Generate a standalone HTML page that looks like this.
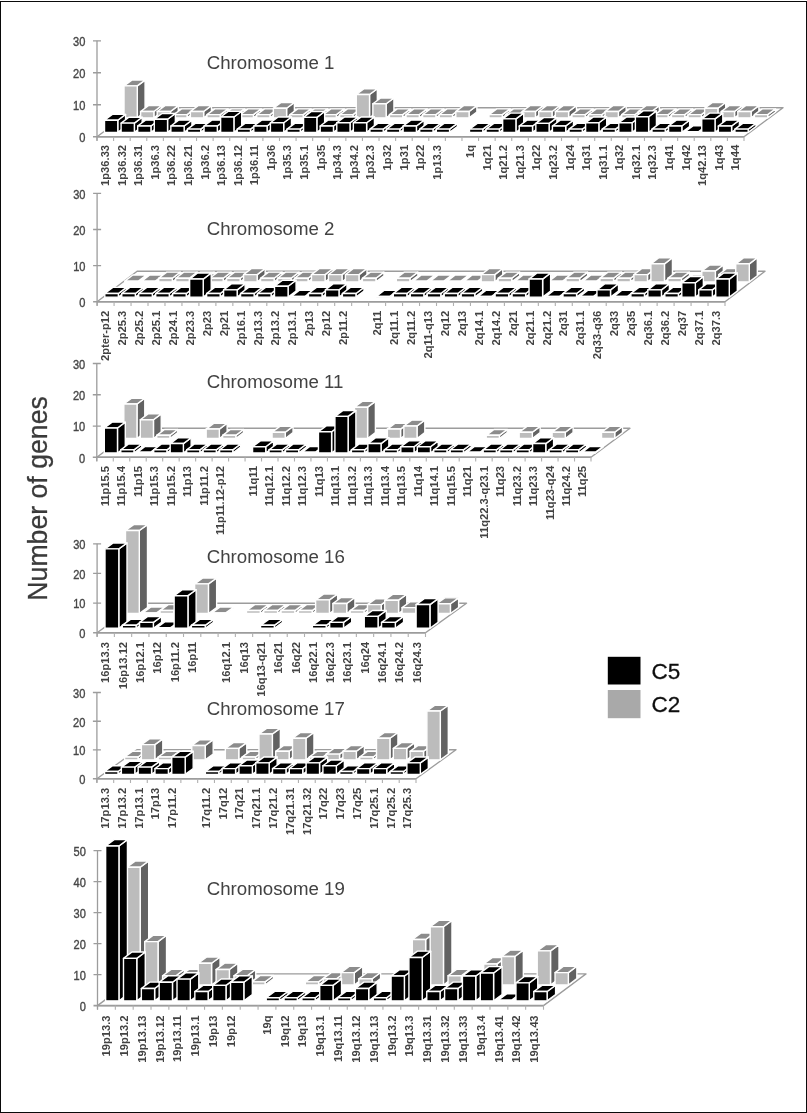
<!DOCTYPE html>
<html lang="en"><head><meta charset="utf-8"><title>Number of genes per chromosome band</title>
<style>
html,body{margin:0;padding:0;background:#fff;}
body{width:807px;height:1113px;overflow:hidden;position:relative;}
svg{position:absolute;left:0;top:0;display:block;font-family:"Liberation Sans", sans-serif;}
</style></head><body>
<svg width="807" height="1113" viewBox="0 0 807 1113">
<defs><filter id="soft" x="0" y="0" width="807" height="1113" filterUnits="userSpaceOnUse"><feGaussianBlur stdDeviation="0.4"/></filter></defs>
<rect x="0" y="0" width="807" height="1113" fill="#fff"/>
<g filter="url(#soft)">
<polygon points="97,136.7 744,136.7 783,107.7 136,107.7" fill="#fff" stroke="#9c9c9c" stroke-width="1.4" stroke-linejoin="round"/>
<line x1="93" y1="136.7" x2="744" y2="136.7" stroke="#9c9c9c" stroke-width="1.6"/>
<path d="M97 136.7V140.9M113.59 136.7V140.9M130.18 136.7V140.9M146.77 136.7V140.9M163.36 136.7V140.9M179.95 136.7V140.9M196.54 136.7V140.9M213.13 136.7V140.9M229.72 136.7V140.9M246.31 136.7V140.9M262.9 136.7V140.9M279.49 136.7V140.9M296.08 136.7V140.9M312.67 136.7V140.9M329.26 136.7V140.9M345.85 136.7V140.9M362.44 136.7V140.9M379.03 136.7V140.9M395.62 136.7V140.9M412.21 136.7V140.9M428.79 136.7V140.9M445.38 136.7V140.9M461.97 136.7V140.9M478.56 136.7V140.9M495.15 136.7V140.9M511.74 136.7V140.9M528.33 136.7V140.9M544.92 136.7V140.9M561.51 136.7V140.9M578.1 136.7V140.9M594.69 136.7V140.9M611.28 136.7V140.9M627.87 136.7V140.9M644.46 136.7V140.9M661.05 136.7V140.9M677.64 136.7V140.9M694.23 136.7V140.9M710.82 136.7V140.9M727.41 136.7V140.9M744 136.7V140.9" stroke="#b0b0b0" stroke-width="1.1" fill="none"/>
<line x1="97" y1="40.8" x2="97" y2="140.7" stroke="#9c9c9c" stroke-width="1.3"/>
<text x="85.4" y="142" text-anchor="end" font-size="11.9" fill="#464646" stroke="#464646" stroke-width="0.35" textLength="6.15" lengthAdjust="spacingAndGlyphs">0</text>
<text x="85.4" y="110.03" text-anchor="end" font-size="11.9" fill="#464646" stroke="#464646" stroke-width="0.35" textLength="12.3" lengthAdjust="spacingAndGlyphs">10</text>
<text x="85.4" y="78.07" text-anchor="end" font-size="11.9" fill="#464646" stroke="#464646" stroke-width="0.35" textLength="12.3" lengthAdjust="spacingAndGlyphs">20</text>
<text x="85.4" y="46.1" text-anchor="end" font-size="11.9" fill="#464646" stroke="#464646" stroke-width="0.35" textLength="12.3" lengthAdjust="spacingAndGlyphs">30</text>
<path d="M93 104.73H101M93 72.77H101M93 40.8H101" stroke="#9c9c9c" stroke-width="1.3" fill="none"/>
<g stroke="#ffffff" stroke-width="1.4" stroke-linejoin="round"><polygon points="137.28,117.85 145.08,112.05 145.08,80.08 137.28,85.88" fill="#626262"/><polygon points="124.01,85.88 137.28,85.88 145.08,80.08 131.81,80.08" fill="#8c8c8c"/><polygon points="124.01,117.85 137.28,117.85 137.28,85.88 124.01,85.88" fill="#bcbcbc"/><polygon points="153.87,117.85 161.67,112.05 161.67,105.66 153.87,111.46" fill="#626262"/><polygon points="140.6,111.46 153.87,111.46 161.67,105.66 148.4,105.66" fill="#8c8c8c"/><polygon points="140.6,117.85 153.87,117.85 153.87,111.46 140.6,111.46" fill="#bcbcbc"/><polygon points="170.46,117.85 178.26,112.05 178.26,105.66 170.46,111.46" fill="#626262"/><polygon points="157.19,111.46 170.46,111.46 178.26,105.66 164.99,105.66" fill="#8c8c8c"/><polygon points="157.19,117.85 170.46,117.85 170.46,111.46 157.19,111.46" fill="#bcbcbc"/><polygon points="187.05,117.85 194.85,112.05 194.85,108.85 187.05,114.65" fill="#626262"/><polygon points="173.78,114.65 187.05,114.65 194.85,108.85 181.58,108.85" fill="#8c8c8c"/><polygon points="173.78,117.85 187.05,117.85 187.05,114.65 173.78,114.65" fill="#bcbcbc"/><polygon points="203.64,117.85 211.44,112.05 211.44,105.66 203.64,111.46" fill="#626262"/><polygon points="190.37,111.46 203.64,111.46 211.44,105.66 198.17,105.66" fill="#8c8c8c"/><polygon points="190.37,117.85 203.64,117.85 203.64,111.46 190.37,111.46" fill="#bcbcbc"/><polygon points="220.23,117.85 228.03,112.05 228.03,108.85 220.23,114.65" fill="#626262"/><polygon points="206.96,114.65 220.23,114.65 228.03,108.85 214.76,108.85" fill="#8c8c8c"/><polygon points="206.96,117.85 220.23,117.85 220.23,114.65 206.96,114.65" fill="#bcbcbc"/><polygon points="236.82,117.85 244.62,112.05 244.62,108.85 236.82,114.65" fill="#626262"/><polygon points="223.55,114.65 236.82,114.65 244.62,108.85 231.35,108.85" fill="#8c8c8c"/><polygon points="223.55,117.85 236.82,117.85 236.82,114.65 223.55,114.65" fill="#bcbcbc"/><polygon points="253.41,117.85 261.21,112.05 261.21,108.85 253.41,114.65" fill="#626262"/><polygon points="240.14,114.65 253.41,114.65 261.21,108.85 247.94,108.85" fill="#8c8c8c"/><polygon points="240.14,117.85 253.41,117.85 253.41,114.65 240.14,114.65" fill="#bcbcbc"/><polygon points="270,117.85 277.8,112.05 277.8,108.85 270,114.65" fill="#626262"/><polygon points="256.73,114.65 270,114.65 277.8,108.85 264.53,108.85" fill="#8c8c8c"/><polygon points="256.73,117.85 270,117.85 270,114.65 256.73,114.65" fill="#bcbcbc"/><polygon points="286.59,117.85 294.39,112.05 294.39,102.46 286.59,108.26" fill="#626262"/><polygon points="273.32,108.26 286.59,108.26 294.39,102.46 281.12,102.46" fill="#8c8c8c"/><polygon points="273.32,117.85 286.59,117.85 286.59,108.26 273.32,108.26" fill="#bcbcbc"/><polygon points="303.18,117.85 310.98,112.05 310.98,108.85 303.18,114.65" fill="#626262"/><polygon points="289.91,114.65 303.18,114.65 310.98,108.85 297.71,108.85" fill="#8c8c8c"/><polygon points="289.91,117.85 303.18,117.85 303.18,114.65 289.91,114.65" fill="#bcbcbc"/><polygon points="319.77,117.85 327.57,112.05 327.57,108.85 319.77,114.65" fill="#626262"/><polygon points="306.5,114.65 319.77,114.65 327.57,108.85 314.3,108.85" fill="#8c8c8c"/><polygon points="306.5,117.85 319.77,117.85 319.77,114.65 306.5,114.65" fill="#bcbcbc"/><polygon points="336.36,117.85 344.16,112.05 344.16,108.85 336.36,114.65" fill="#626262"/><polygon points="323.09,114.65 336.36,114.65 344.16,108.85 330.89,108.85" fill="#8c8c8c"/><polygon points="323.09,117.85 336.36,117.85 336.36,114.65 323.09,114.65" fill="#bcbcbc"/><polygon points="352.95,117.85 360.75,112.05 360.75,108.85 352.95,114.65" fill="#626262"/><polygon points="339.68,114.65 352.95,114.65 360.75,108.85 347.48,108.85" fill="#8c8c8c"/><polygon points="339.68,117.85 352.95,117.85 352.95,114.65 339.68,114.65" fill="#bcbcbc"/><polygon points="369.54,117.85 377.34,112.05 377.34,88.71 369.54,94.51" fill="#626262"/><polygon points="356.27,94.51 369.54,94.51 377.34,88.71 364.07,88.71" fill="#8c8c8c"/><polygon points="356.27,117.85 369.54,117.85 369.54,94.51 356.27,94.51" fill="#bcbcbc"/><polygon points="386.13,117.85 393.93,112.05 393.93,97.98 386.13,103.78" fill="#626262"/><polygon points="372.86,103.78 386.13,103.78 393.93,97.98 380.66,97.98" fill="#8c8c8c"/><polygon points="372.86,117.85 386.13,117.85 386.13,103.78 372.86,103.78" fill="#bcbcbc"/><polygon points="402.72,117.85 410.52,112.05 410.52,108.85 402.72,114.65" fill="#626262"/><polygon points="389.44,114.65 402.72,114.65 410.52,108.85 397.24,108.85" fill="#8c8c8c"/><polygon points="389.44,117.85 402.72,117.85 402.72,114.65 389.44,114.65" fill="#bcbcbc"/><polygon points="419.31,117.85 427.11,112.05 427.11,108.85 419.31,114.65" fill="#626262"/><polygon points="406.03,114.65 419.31,114.65 427.11,108.85 413.83,108.85" fill="#8c8c8c"/><polygon points="406.03,117.85 419.31,117.85 419.31,114.65 406.03,114.65" fill="#bcbcbc"/><polygon points="435.9,117.85 443.7,112.05 443.7,108.85 435.9,114.65" fill="#626262"/><polygon points="422.62,114.65 435.9,114.65 443.7,108.85 430.42,108.85" fill="#8c8c8c"/><polygon points="422.62,117.85 435.9,117.85 435.9,114.65 422.62,114.65" fill="#bcbcbc"/><polygon points="452.49,117.85 460.29,112.05 460.29,108.85 452.49,114.65" fill="#626262"/><polygon points="439.21,114.65 452.49,114.65 460.29,108.85 447.01,108.85" fill="#8c8c8c"/><polygon points="439.21,117.85 452.49,117.85 452.49,114.65 439.21,114.65" fill="#bcbcbc"/><polygon points="469.08,117.85 476.88,112.05 476.88,105.66 469.08,111.46" fill="#626262"/><polygon points="455.8,111.46 469.08,111.46 476.88,105.66 463.6,105.66" fill="#8c8c8c"/><polygon points="455.8,117.85 469.08,117.85 469.08,111.46 455.8,111.46" fill="#bcbcbc"/><polygon points="502.26,117.85 510.06,112.05 510.06,108.85 502.26,114.65" fill="#626262"/><polygon points="488.98,114.65 502.26,114.65 510.06,108.85 496.78,108.85" fill="#8c8c8c"/><polygon points="488.98,117.85 502.26,117.85 502.26,114.65 488.98,114.65" fill="#bcbcbc"/><polygon points="518.84,117.85 526.64,112.05 526.64,108.85 518.84,114.65" fill="#626262"/><polygon points="505.57,114.65 518.84,114.65 526.64,108.85 513.37,108.85" fill="#8c8c8c"/><polygon points="505.57,117.85 518.84,117.85 518.84,114.65 505.57,114.65" fill="#bcbcbc"/><polygon points="535.43,117.85 543.23,112.05 543.23,105.66 535.43,111.46" fill="#626262"/><polygon points="522.16,111.46 535.43,111.46 543.23,105.66 529.96,105.66" fill="#8c8c8c"/><polygon points="522.16,117.85 535.43,117.85 535.43,111.46 522.16,111.46" fill="#bcbcbc"/><polygon points="552.02,117.85 559.82,112.05 559.82,105.66 552.02,111.46" fill="#626262"/><polygon points="538.75,111.46 552.02,111.46 559.82,105.66 546.55,105.66" fill="#8c8c8c"/><polygon points="538.75,117.85 552.02,117.85 552.02,111.46 538.75,111.46" fill="#bcbcbc"/><polygon points="568.61,117.85 576.41,112.05 576.41,105.66 568.61,111.46" fill="#626262"/><polygon points="555.34,111.46 568.61,111.46 576.41,105.66 563.14,105.66" fill="#8c8c8c"/><polygon points="555.34,117.85 568.61,117.85 568.61,111.46 555.34,111.46" fill="#bcbcbc"/><polygon points="585.2,117.85 593,112.05 593,108.85 585.2,114.65" fill="#626262"/><polygon points="571.93,114.65 585.2,114.65 593,108.85 579.73,108.85" fill="#8c8c8c"/><polygon points="571.93,117.85 585.2,117.85 585.2,114.65 571.93,114.65" fill="#bcbcbc"/><polygon points="601.79,117.85 609.59,112.05 609.59,108.85 601.79,114.65" fill="#626262"/><polygon points="588.52,114.65 601.79,114.65 609.59,108.85 596.32,108.85" fill="#8c8c8c"/><polygon points="588.52,117.85 601.79,117.85 601.79,114.65 588.52,114.65" fill="#bcbcbc"/><polygon points="618.38,117.85 626.18,112.05 626.18,105.66 618.38,111.46" fill="#626262"/><polygon points="605.11,111.46 618.38,111.46 626.18,105.66 612.91,105.66" fill="#8c8c8c"/><polygon points="605.11,117.85 618.38,117.85 618.38,111.46 605.11,111.46" fill="#bcbcbc"/><polygon points="634.97,117.85 642.77,112.05 642.77,108.85 634.97,114.65" fill="#626262"/><polygon points="621.7,114.65 634.97,114.65 642.77,108.85 629.5,108.85" fill="#8c8c8c"/><polygon points="621.7,117.85 634.97,117.85 634.97,114.65 621.7,114.65" fill="#bcbcbc"/><polygon points="651.56,117.85 659.36,112.05 659.36,105.66 651.56,111.46" fill="#626262"/><polygon points="638.29,111.46 651.56,111.46 659.36,105.66 646.09,105.66" fill="#8c8c8c"/><polygon points="638.29,117.85 651.56,117.85 651.56,111.46 638.29,111.46" fill="#bcbcbc"/><polygon points="668.15,117.85 675.95,112.05 675.95,108.85 668.15,114.65" fill="#626262"/><polygon points="654.88,114.65 668.15,114.65 675.95,108.85 662.68,108.85" fill="#8c8c8c"/><polygon points="654.88,117.85 668.15,117.85 668.15,114.65 654.88,114.65" fill="#bcbcbc"/><polygon points="684.74,117.85 692.54,112.05 692.54,108.85 684.74,114.65" fill="#626262"/><polygon points="671.47,114.65 684.74,114.65 692.54,108.85 679.27,108.85" fill="#8c8c8c"/><polygon points="671.47,117.85 684.74,117.85 684.74,114.65 671.47,114.65" fill="#bcbcbc"/><polygon points="701.33,117.85 709.13,112.05 709.13,108.85 701.33,114.65" fill="#626262"/><polygon points="688.06,114.65 701.33,114.65 709.13,108.85 695.86,108.85" fill="#8c8c8c"/><polygon points="688.06,117.85 701.33,117.85 701.33,114.65 688.06,114.65" fill="#bcbcbc"/><polygon points="717.92,117.85 725.72,112.05 725.72,102.46 717.92,108.26" fill="#626262"/><polygon points="704.65,108.26 717.92,108.26 725.72,102.46 712.45,102.46" fill="#8c8c8c"/><polygon points="704.65,117.85 717.92,117.85 717.92,108.26 704.65,108.26" fill="#bcbcbc"/><polygon points="734.51,117.85 742.31,112.05 742.31,105.66 734.51,111.46" fill="#626262"/><polygon points="721.24,111.46 734.51,111.46 742.31,105.66 729.04,105.66" fill="#8c8c8c"/><polygon points="721.24,117.85 734.51,117.85 734.51,111.46 721.24,111.46" fill="#bcbcbc"/><polygon points="751.1,117.85 758.9,112.05 758.9,105.66 751.1,111.46" fill="#626262"/><polygon points="737.83,111.46 751.1,111.46 758.9,105.66 745.63,105.66" fill="#8c8c8c"/><polygon points="737.83,117.85 751.1,117.85 751.1,111.46 737.83,111.46" fill="#bcbcbc"/><polygon points="767.69,117.85 775.49,112.05 775.49,108.85 767.69,114.65" fill="#626262"/><polygon points="754.42,114.65 767.69,114.65 775.49,108.85 762.22,108.85" fill="#8c8c8c"/><polygon points="754.42,117.85 767.69,117.85 767.69,114.65 754.42,114.65" fill="#bcbcbc"/></g>
<g stroke="#ffffff" stroke-width="1.4" stroke-linejoin="round"><polygon points="117.78,132.35 125.58,126.55 125.58,114.4 117.78,120.2" fill="#000000"/><polygon points="104.51,120.2 117.78,120.2 125.58,114.4 112.31,114.4" fill="#000000"/><polygon points="104.51,132.35 117.78,132.35 117.78,120.2 104.51,120.2" fill="#000000"/><polygon points="134.37,132.35 142.17,126.55 142.17,117.28 134.37,123.08" fill="#000000"/><polygon points="121.1,123.08 134.37,123.08 142.17,117.28 128.9,117.28" fill="#000000"/><polygon points="121.1,132.35 134.37,132.35 134.37,123.08 121.1,123.08" fill="#000000"/><polygon points="150.96,132.35 158.76,126.55 158.76,120.16 150.96,125.96" fill="#000000"/><polygon points="137.69,125.96 150.96,125.96 158.76,120.16 145.49,120.16" fill="#000000"/><polygon points="137.69,132.35 150.96,132.35 150.96,125.96 137.69,125.96" fill="#000000"/><polygon points="167.55,132.35 175.35,126.55 175.35,113.44 167.55,119.24" fill="#000000"/><polygon points="154.28,119.24 167.55,119.24 175.35,113.44 162.08,113.44" fill="#000000"/><polygon points="154.28,132.35 167.55,132.35 167.55,119.24 154.28,119.24" fill="#000000"/><polygon points="184.14,132.35 191.94,126.55 191.94,120.16 184.14,125.96" fill="#000000"/><polygon points="170.87,125.96 184.14,125.96 191.94,120.16 178.67,120.16" fill="#000000"/><polygon points="170.87,132.35 184.14,132.35 184.14,125.96 170.87,125.96" fill="#000000"/><polygon points="200.73,132.35 208.53,126.55 208.53,123.35 200.73,129.15" fill="#000000"/><polygon points="187.46,129.15 200.73,129.15 208.53,123.35 195.26,123.35" fill="#000000"/><polygon points="187.46,132.35 200.73,132.35 200.73,129.15 187.46,129.15" fill="#000000"/><polygon points="217.32,132.35 225.12,126.55 225.12,120.16 217.32,125.96" fill="#000000"/><polygon points="204.05,125.96 217.32,125.96 225.12,120.16 211.85,120.16" fill="#000000"/><polygon points="204.05,132.35 217.32,132.35 217.32,125.96 204.05,125.96" fill="#000000"/><polygon points="233.91,132.35 241.71,126.55 241.71,111.21 233.91,117.01" fill="#000000"/><polygon points="220.64,117.01 233.91,117.01 241.71,111.21 228.44,111.21" fill="#000000"/><polygon points="220.64,132.35 233.91,132.35 233.91,117.01 220.64,117.01" fill="#000000"/><polygon points="250.5,132.35 258.3,126.55 258.3,123.35 250.5,129.15" fill="#000000"/><polygon points="237.23,129.15 250.5,129.15 258.3,123.35 245.03,123.35" fill="#000000"/><polygon points="237.23,132.35 250.5,132.35 250.5,129.15 237.23,129.15" fill="#000000"/><polygon points="267.09,132.35 274.89,126.55 274.89,120.16 267.09,125.96" fill="#000000"/><polygon points="253.82,125.96 267.09,125.96 274.89,120.16 261.62,120.16" fill="#000000"/><polygon points="253.82,132.35 267.09,132.35 267.09,125.96 253.82,125.96" fill="#000000"/><polygon points="283.68,132.35 291.48,126.55 291.48,116.96 283.68,122.76" fill="#000000"/><polygon points="270.41,122.76 283.68,122.76 291.48,116.96 278.21,116.96" fill="#000000"/><polygon points="270.41,132.35 283.68,132.35 283.68,122.76 270.41,122.76" fill="#000000"/><polygon points="300.27,132.35 308.07,126.55 308.07,123.35 300.27,129.15" fill="#000000"/><polygon points="287,129.15 300.27,129.15 308.07,123.35 294.8,123.35" fill="#000000"/><polygon points="287,132.35 300.27,132.35 300.27,129.15 287,129.15" fill="#000000"/><polygon points="316.86,132.35 324.66,126.55 324.66,111.53 316.86,117.33" fill="#000000"/><polygon points="303.59,117.33 316.86,117.33 324.66,111.53 311.39,111.53" fill="#000000"/><polygon points="303.59,132.35 316.86,132.35 316.86,117.33 303.59,117.33" fill="#000000"/><polygon points="333.45,132.35 341.25,126.55 341.25,120.16 333.45,125.96" fill="#000000"/><polygon points="320.18,125.96 333.45,125.96 341.25,120.16 327.98,120.16" fill="#000000"/><polygon points="320.18,132.35 333.45,132.35 333.45,125.96 320.18,125.96" fill="#000000"/><polygon points="350.04,132.35 357.84,126.55 357.84,116.96 350.04,122.76" fill="#000000"/><polygon points="336.77,122.76 350.04,122.76 357.84,116.96 344.57,116.96" fill="#000000"/><polygon points="336.77,132.35 350.04,132.35 350.04,122.76 336.77,122.76" fill="#000000"/><polygon points="366.63,132.35 374.43,126.55 374.43,116.96 366.63,122.76" fill="#000000"/><polygon points="353.36,122.76 366.63,122.76 374.43,116.96 361.16,116.96" fill="#000000"/><polygon points="353.36,132.35 366.63,132.35 366.63,122.76 353.36,122.76" fill="#000000"/><polygon points="383.22,132.35 391.02,126.55 391.02,123.35 383.22,129.15" fill="#000000"/><polygon points="369.94,129.15 383.22,129.15 391.02,123.35 377.74,123.35" fill="#000000"/><polygon points="369.94,132.35 383.22,132.35 383.22,129.15 369.94,129.15" fill="#000000"/><polygon points="399.81,132.35 407.61,126.55 407.61,123.35 399.81,129.15" fill="#000000"/><polygon points="386.53,129.15 399.81,129.15 407.61,123.35 394.33,123.35" fill="#000000"/><polygon points="386.53,132.35 399.81,132.35 399.81,129.15 386.53,129.15" fill="#000000"/><polygon points="416.4,132.35 424.2,126.55 424.2,120.16 416.4,125.96" fill="#000000"/><polygon points="403.12,125.96 416.4,125.96 424.2,120.16 410.92,120.16" fill="#000000"/><polygon points="403.12,132.35 416.4,132.35 416.4,125.96 403.12,125.96" fill="#000000"/><polygon points="432.99,132.35 440.79,126.55 440.79,123.35 432.99,129.15" fill="#000000"/><polygon points="419.71,129.15 432.99,129.15 440.79,123.35 427.51,123.35" fill="#000000"/><polygon points="419.71,132.35 432.99,132.35 432.99,129.15 419.71,129.15" fill="#000000"/><polygon points="449.58,132.35 457.38,126.55 457.38,123.35 449.58,129.15" fill="#000000"/><polygon points="436.3,129.15 449.58,129.15 457.38,123.35 444.1,123.35" fill="#000000"/><polygon points="436.3,132.35 449.58,132.35 449.58,129.15 436.3,129.15" fill="#000000"/><polygon points="482.76,132.35 490.56,126.55 490.56,123.35 482.76,129.15" fill="#000000"/><polygon points="469.48,129.15 482.76,129.15 490.56,123.35 477.28,123.35" fill="#000000"/><polygon points="469.48,132.35 482.76,132.35 482.76,129.15 469.48,129.15" fill="#000000"/><polygon points="499.34,132.35 507.14,126.55 507.14,123.35 499.34,129.15" fill="#000000"/><polygon points="486.07,129.15 499.34,129.15 507.14,123.35 493.87,123.35" fill="#000000"/><polygon points="486.07,132.35 499.34,132.35 499.34,129.15 486.07,129.15" fill="#000000"/><polygon points="515.93,132.35 523.73,126.55 523.73,113.12 515.93,118.92" fill="#000000"/><polygon points="502.66,118.92 515.93,118.92 523.73,113.12 510.46,113.12" fill="#000000"/><polygon points="502.66,132.35 515.93,132.35 515.93,118.92 502.66,118.92" fill="#000000"/><polygon points="532.52,132.35 540.32,126.55 540.32,120.16 532.52,125.96" fill="#000000"/><polygon points="519.25,125.96 532.52,125.96 540.32,120.16 527.05,120.16" fill="#000000"/><polygon points="519.25,132.35 532.52,132.35 532.52,125.96 519.25,125.96" fill="#000000"/><polygon points="549.11,132.35 556.91,126.55 556.91,117.6 549.11,123.4" fill="#000000"/><polygon points="535.84,123.4 549.11,123.4 556.91,117.6 543.64,117.6" fill="#000000"/><polygon points="535.84,132.35 549.11,132.35 549.11,123.4 535.84,123.4" fill="#000000"/><polygon points="565.7,132.35 573.5,126.55 573.5,120.16 565.7,125.96" fill="#000000"/><polygon points="552.43,125.96 565.7,125.96 573.5,120.16 560.23,120.16" fill="#000000"/><polygon points="552.43,132.35 565.7,132.35 565.7,125.96 552.43,125.96" fill="#000000"/><polygon points="582.29,132.35 590.09,126.55 590.09,123.35 582.29,129.15" fill="#000000"/><polygon points="569.02,129.15 582.29,129.15 590.09,123.35 576.82,123.35" fill="#000000"/><polygon points="569.02,132.35 582.29,132.35 582.29,129.15 569.02,129.15" fill="#000000"/><polygon points="598.88,132.35 606.68,126.55 606.68,116.96 598.88,122.76" fill="#000000"/><polygon points="585.61,122.76 598.88,122.76 606.68,116.96 593.41,116.96" fill="#000000"/><polygon points="585.61,132.35 598.88,132.35 598.88,122.76 585.61,122.76" fill="#000000"/><polygon points="615.47,132.35 623.27,126.55 623.27,123.35 615.47,129.15" fill="#000000"/><polygon points="602.2,129.15 615.47,129.15 623.27,123.35 610,123.35" fill="#000000"/><polygon points="602.2,132.35 615.47,132.35 615.47,129.15 602.2,129.15" fill="#000000"/><polygon points="632.06,132.35 639.86,126.55 639.86,116.96 632.06,122.76" fill="#000000"/><polygon points="618.79,122.76 632.06,122.76 639.86,116.96 626.59,116.96" fill="#000000"/><polygon points="618.79,132.35 632.06,132.35 632.06,122.76 618.79,122.76" fill="#000000"/><polygon points="648.65,132.35 656.45,126.55 656.45,110.89 648.65,116.69" fill="#000000"/><polygon points="635.38,116.69 648.65,116.69 656.45,110.89 643.18,110.89" fill="#000000"/><polygon points="635.38,132.35 648.65,132.35 648.65,116.69 635.38,116.69" fill="#000000"/><polygon points="665.24,132.35 673.04,126.55 673.04,123.35 665.24,129.15" fill="#000000"/><polygon points="651.97,129.15 665.24,129.15 673.04,123.35 659.77,123.35" fill="#000000"/><polygon points="651.97,132.35 665.24,132.35 665.24,129.15 651.97,129.15" fill="#000000"/><polygon points="681.83,132.35 689.63,126.55 689.63,120.16 681.83,125.96" fill="#000000"/><polygon points="668.56,125.96 681.83,125.96 689.63,120.16 676.36,120.16" fill="#000000"/><polygon points="668.56,132.35 681.83,132.35 681.83,125.96 668.56,125.96" fill="#000000"/><polygon points="698.42,132.35 706.22,126.55 706.22,125.91 698.42,131.71" fill="#000000"/><polygon points="685.15,131.71 698.42,131.71 706.22,125.91 692.95,125.91" fill="#000000"/><polygon points="685.15,132.35 698.42,132.35 698.42,131.71 685.15,131.71" fill="#000000"/><polygon points="715.01,132.35 722.81,126.55 722.81,113.12 715.01,118.92" fill="#000000"/><polygon points="701.74,118.92 715.01,118.92 722.81,113.12 709.54,113.12" fill="#000000"/><polygon points="701.74,132.35 715.01,132.35 715.01,118.92 701.74,118.92" fill="#000000"/><polygon points="731.6,132.35 739.4,126.55 739.4,120.16 731.6,125.96" fill="#000000"/><polygon points="718.33,125.96 731.6,125.96 739.4,120.16 726.13,120.16" fill="#000000"/><polygon points="718.33,132.35 731.6,132.35 731.6,125.96 718.33,125.96" fill="#000000"/><polygon points="748.19,132.35 755.99,126.55 755.99,123.35 748.19,129.15" fill="#000000"/><polygon points="734.92,129.15 748.19,129.15 755.99,123.35 742.72,123.35" fill="#000000"/><polygon points="734.92,132.35 748.19,132.35 748.19,129.15 734.92,129.15" fill="#000000"/></g>
<g font-size="11.2" font-weight="bold" fill="#424242" text-anchor="end"><text transform="translate(108.99 144.9) rotate(-90)">1p36.33</text><text transform="translate(125.58 144.9) rotate(-90)">1p36.32</text><text transform="translate(142.17 144.9) rotate(-90)">1p36.31</text><text transform="translate(158.76 144.9) rotate(-90)">1p36.3</text><text transform="translate(175.35 144.9) rotate(-90)">1p36.22</text><text transform="translate(191.94 144.9) rotate(-90)">1p36.21</text><text transform="translate(208.53 144.9) rotate(-90)">1p36.2</text><text transform="translate(225.12 144.9) rotate(-90)">1p36.13</text><text transform="translate(241.71 144.9) rotate(-90)">1p36.12</text><text transform="translate(258.3 144.9) rotate(-90)">1p36.11</text><text transform="translate(274.89 144.9) rotate(-90)">1p36</text><text transform="translate(291.48 144.9) rotate(-90)">1p35.3</text><text transform="translate(308.07 144.9) rotate(-90)">1p35.1</text><text transform="translate(324.66 144.9) rotate(-90)">1p35</text><text transform="translate(341.25 144.9) rotate(-90)">1p34.3</text><text transform="translate(357.84 144.9) rotate(-90)">1p34.2</text><text transform="translate(374.43 144.9) rotate(-90)">1p32.3</text><text transform="translate(391.02 144.9) rotate(-90)">1p32</text><text transform="translate(407.61 144.9) rotate(-90)">1p31</text><text transform="translate(424.2 144.9) rotate(-90)">1p22</text><text transform="translate(440.79 144.9) rotate(-90)">1p13.3</text><text transform="translate(473.97 144.9) rotate(-90)">1q</text><text transform="translate(490.56 144.9) rotate(-90)">1q21</text><text transform="translate(507.15 144.9) rotate(-90)">1q21.2</text><text transform="translate(523.74 144.9) rotate(-90)">1q21.3</text><text transform="translate(540.33 144.9) rotate(-90)">1q22</text><text transform="translate(556.92 144.9) rotate(-90)">1q23.2</text><text transform="translate(573.51 144.9) rotate(-90)">1q24</text><text transform="translate(590.1 144.9) rotate(-90)">1q31</text><text transform="translate(606.69 144.9) rotate(-90)">1q31.1</text><text transform="translate(623.28 144.9) rotate(-90)">1q32</text><text transform="translate(639.87 144.9) rotate(-90)">1q32.1</text><text transform="translate(656.46 144.9) rotate(-90)">1q32.3</text><text transform="translate(673.05 144.9) rotate(-90)">1q41</text><text transform="translate(689.64 144.9) rotate(-90)">1q42</text><text transform="translate(706.23 144.9) rotate(-90)">1q42.13</text><text transform="translate(722.82 144.9) rotate(-90)">1q43</text><text transform="translate(739.41 144.9) rotate(-90)">1q44</text></g>
<text x="206.7" y="68.7" font-size="18.7" fill="#424242">Chromosome 1</text>
<polygon points="97.1,301.7 725,301.7 765,271.2 137.1,271.2" fill="#fff" stroke="#9c9c9c" stroke-width="1.4" stroke-linejoin="round"/>
<line x1="93.1" y1="301.7" x2="725" y2="301.7" stroke="#9c9c9c" stroke-width="1.6"/>
<path d="M97.1 301.7V305.9M114.07 301.7V305.9M131.04 301.7V305.9M148.01 301.7V305.9M164.98 301.7V305.9M181.95 301.7V305.9M198.92 301.7V305.9M215.89 301.7V305.9M232.86 301.7V305.9M249.83 301.7V305.9M266.8 301.7V305.9M283.77 301.7V305.9M300.74 301.7V305.9M317.71 301.7V305.9M334.68 301.7V305.9M351.65 301.7V305.9M368.62 301.7V305.9M385.59 301.7V305.9M402.56 301.7V305.9M419.54 301.7V305.9M436.51 301.7V305.9M453.48 301.7V305.9M470.45 301.7V305.9M487.42 301.7V305.9M504.39 301.7V305.9M521.36 301.7V305.9M538.33 301.7V305.9M555.3 301.7V305.9M572.27 301.7V305.9M589.24 301.7V305.9M606.21 301.7V305.9M623.18 301.7V305.9M640.15 301.7V305.9M657.12 301.7V305.9M674.09 301.7V305.9M691.06 301.7V305.9M708.03 301.7V305.9M725 301.7V305.9" stroke="#b0b0b0" stroke-width="1.1" fill="none"/>
<line x1="97.1" y1="193.4" x2="97.1" y2="305.7" stroke="#9c9c9c" stroke-width="1.3"/>
<text x="85.5" y="307" text-anchor="end" font-size="11.9" fill="#464646" stroke="#464646" stroke-width="0.35" textLength="6.15" lengthAdjust="spacingAndGlyphs">0</text>
<text x="85.5" y="270.9" text-anchor="end" font-size="11.9" fill="#464646" stroke="#464646" stroke-width="0.35" textLength="12.3" lengthAdjust="spacingAndGlyphs">10</text>
<text x="85.5" y="234.8" text-anchor="end" font-size="11.9" fill="#464646" stroke="#464646" stroke-width="0.35" textLength="12.3" lengthAdjust="spacingAndGlyphs">20</text>
<text x="85.5" y="198.7" text-anchor="end" font-size="11.9" fill="#464646" stroke="#464646" stroke-width="0.35" textLength="12.3" lengthAdjust="spacingAndGlyphs">30</text>
<path d="M93.1 265.6H101.1M93.1 229.5H101.1M93.1 193.4H101.1" stroke="#9c9c9c" stroke-width="1.3" fill="none"/>
<g stroke="#ffffff" stroke-width="1.4" stroke-linejoin="round"><polygon points="138.37,281.88 146.37,275.77 146.37,275.05 138.37,281.15" fill="#626262"/><polygon points="124.8,281.15 138.37,281.15 146.37,275.05 132.8,275.05" fill="#8c8c8c"/><polygon points="124.8,281.88 138.37,281.88 138.37,281.15 124.8,281.15" fill="#bcbcbc"/><polygon points="155.34,281.88 163.34,275.77 163.34,275.05 155.34,281.15" fill="#626262"/><polygon points="141.77,281.15 155.34,281.15 163.34,275.05 149.77,275.05" fill="#8c8c8c"/><polygon points="141.77,281.88 155.34,281.88 155.34,281.15 141.77,281.15" fill="#bcbcbc"/><polygon points="172.31,281.88 180.31,275.77 180.31,272.16 172.31,278.26" fill="#626262"/><polygon points="158.74,278.26 172.31,278.26 180.31,272.16 166.74,272.16" fill="#8c8c8c"/><polygon points="158.74,281.88 172.31,281.88 172.31,278.26 158.74,278.26" fill="#bcbcbc"/><polygon points="189.28,281.88 197.28,275.77 197.28,272.16 189.28,278.26" fill="#626262"/><polygon points="175.71,278.26 189.28,278.26 197.28,272.16 183.71,272.16" fill="#8c8c8c"/><polygon points="175.71,281.88 189.28,281.88 189.28,278.26 175.71,278.26" fill="#bcbcbc"/><polygon points="206.25,281.88 214.25,275.77 214.25,272.16 206.25,278.26" fill="#626262"/><polygon points="192.68,278.26 206.25,278.26 214.25,272.16 200.68,272.16" fill="#8c8c8c"/><polygon points="192.68,281.88 206.25,281.88 206.25,278.26 192.68,278.26" fill="#bcbcbc"/><polygon points="223.22,281.88 231.22,275.77 231.22,272.16 223.22,278.26" fill="#626262"/><polygon points="209.65,278.26 223.22,278.26 231.22,272.16 217.65,272.16" fill="#8c8c8c"/><polygon points="209.65,281.88 223.22,281.88 223.22,278.26 209.65,278.26" fill="#bcbcbc"/><polygon points="240.19,281.88 248.19,275.77 248.19,272.16 240.19,278.26" fill="#626262"/><polygon points="226.62,278.26 240.19,278.26 248.19,272.16 234.62,272.16" fill="#8c8c8c"/><polygon points="226.62,281.88 240.19,281.88 240.19,278.26 226.62,278.26" fill="#bcbcbc"/><polygon points="257.17,281.88 265.17,275.77 265.17,268.55 257.17,274.65" fill="#626262"/><polygon points="243.59,274.65 257.17,274.65 265.17,268.55 251.59,268.55" fill="#8c8c8c"/><polygon points="243.59,281.88 257.17,281.88 257.17,274.65 243.59,274.65" fill="#bcbcbc"/><polygon points="274.14,281.88 282.14,275.77 282.14,272.16 274.14,278.26" fill="#626262"/><polygon points="260.56,278.26 274.14,278.26 282.14,272.16 268.56,272.16" fill="#8c8c8c"/><polygon points="260.56,281.88 274.14,281.88 274.14,278.26 260.56,278.26" fill="#bcbcbc"/><polygon points="291.11,281.88 299.11,275.77 299.11,272.16 291.11,278.26" fill="#626262"/><polygon points="277.53,278.26 291.11,278.26 299.11,272.16 285.53,272.16" fill="#8c8c8c"/><polygon points="277.53,281.88 291.11,281.88 291.11,278.26 277.53,278.26" fill="#bcbcbc"/><polygon points="308.08,281.88 316.08,275.77 316.08,272.16 308.08,278.26" fill="#626262"/><polygon points="294.5,278.26 308.08,278.26 316.08,272.16 302.5,272.16" fill="#8c8c8c"/><polygon points="294.5,281.88 308.08,281.88 308.08,278.26 294.5,278.26" fill="#bcbcbc"/><polygon points="325.05,281.88 333.05,275.77 333.05,268.55 325.05,274.65" fill="#626262"/><polygon points="311.47,274.65 325.05,274.65 333.05,268.55 319.47,268.55" fill="#8c8c8c"/><polygon points="311.47,281.88 325.05,281.88 325.05,274.65 311.47,274.65" fill="#bcbcbc"/><polygon points="342.02,281.88 350.02,275.77 350.02,268.55 342.02,274.65" fill="#626262"/><polygon points="328.44,274.65 342.02,274.65 350.02,268.55 336.44,268.55" fill="#8c8c8c"/><polygon points="328.44,281.88 342.02,281.88 342.02,274.65 328.44,274.65" fill="#bcbcbc"/><polygon points="358.99,281.88 366.99,275.77 366.99,268.55 358.99,274.65" fill="#626262"/><polygon points="345.41,274.65 358.99,274.65 366.99,268.55 353.41,268.55" fill="#8c8c8c"/><polygon points="345.41,281.88 358.99,281.88 358.99,274.65 345.41,274.65" fill="#bcbcbc"/><polygon points="375.96,281.88 383.96,275.77 383.96,272.16 375.96,278.26" fill="#626262"/><polygon points="362.38,278.26 375.96,278.26 383.96,272.16 370.38,272.16" fill="#8c8c8c"/><polygon points="362.38,281.88 375.96,281.88 375.96,278.26 362.38,278.26" fill="#bcbcbc"/><polygon points="409.9,281.88 417.9,275.77 417.9,272.16 409.9,278.26" fill="#626262"/><polygon points="396.32,278.26 409.9,278.26 417.9,272.16 404.32,272.16" fill="#8c8c8c"/><polygon points="396.32,281.88 409.9,281.88 409.9,278.26 396.32,278.26" fill="#bcbcbc"/><polygon points="426.87,281.88 434.87,275.77 434.87,275.05 426.87,281.15" fill="#626262"/><polygon points="413.29,281.15 426.87,281.15 434.87,275.05 421.29,275.05" fill="#8c8c8c"/><polygon points="413.29,281.88 426.87,281.88 426.87,281.15 413.29,281.15" fill="#bcbcbc"/><polygon points="443.84,281.88 451.84,275.77 451.84,275.05 443.84,281.15" fill="#626262"/><polygon points="430.26,281.15 443.84,281.15 451.84,275.05 438.26,275.05" fill="#8c8c8c"/><polygon points="430.26,281.88 443.84,281.88 443.84,281.15 430.26,281.15" fill="#bcbcbc"/><polygon points="460.81,281.88 468.81,275.77 468.81,275.05 460.81,281.15" fill="#626262"/><polygon points="447.23,281.15 460.81,281.15 468.81,275.05 455.23,275.05" fill="#8c8c8c"/><polygon points="447.23,281.88 460.81,281.88 460.81,281.15 447.23,281.15" fill="#bcbcbc"/><polygon points="477.78,281.88 485.78,275.77 485.78,275.05 477.78,281.15" fill="#626262"/><polygon points="464.2,281.15 477.78,281.15 485.78,275.05 472.2,275.05" fill="#8c8c8c"/><polygon points="464.2,281.88 477.78,281.88 477.78,281.15 464.2,281.15" fill="#bcbcbc"/><polygon points="494.75,281.88 502.75,275.77 502.75,268.55 494.75,274.65" fill="#626262"/><polygon points="481.17,274.65 494.75,274.65 502.75,268.55 489.17,268.55" fill="#8c8c8c"/><polygon points="481.17,281.88 494.75,281.88 494.75,274.65 481.17,274.65" fill="#bcbcbc"/><polygon points="511.72,281.88 519.72,275.77 519.72,272.16 511.72,278.26" fill="#626262"/><polygon points="498.14,278.26 511.72,278.26 519.72,272.16 506.14,272.16" fill="#8c8c8c"/><polygon points="498.14,281.88 511.72,281.88 511.72,278.26 498.14,278.26" fill="#bcbcbc"/><polygon points="528.69,281.88 536.69,275.77 536.69,275.05 528.69,281.15" fill="#626262"/><polygon points="515.11,281.15 528.69,281.15 536.69,275.05 523.11,275.05" fill="#8c8c8c"/><polygon points="515.11,281.88 528.69,281.88 528.69,281.15 515.11,281.15" fill="#bcbcbc"/><polygon points="545.66,281.88 553.66,275.77 553.66,275.05 545.66,281.15" fill="#626262"/><polygon points="532.08,281.15 545.66,281.15 553.66,275.05 540.08,275.05" fill="#8c8c8c"/><polygon points="532.08,281.88 545.66,281.88 545.66,281.15 532.08,281.15" fill="#bcbcbc"/><polygon points="562.63,281.88 570.63,275.77 570.63,275.05 562.63,281.15" fill="#626262"/><polygon points="549.05,281.15 562.63,281.15 570.63,275.05 557.05,275.05" fill="#8c8c8c"/><polygon points="549.05,281.88 562.63,281.88 562.63,281.15 549.05,281.15" fill="#bcbcbc"/><polygon points="579.6,281.88 587.6,275.77 587.6,272.16 579.6,278.26" fill="#626262"/><polygon points="566.02,278.26 579.6,278.26 587.6,272.16 574.02,272.16" fill="#8c8c8c"/><polygon points="566.02,281.88 579.6,281.88 579.6,278.26 566.02,278.26" fill="#bcbcbc"/><polygon points="596.57,281.88 604.57,275.77 604.57,275.05 596.57,281.15" fill="#626262"/><polygon points="582.99,281.15 596.57,281.15 604.57,275.05 590.99,275.05" fill="#8c8c8c"/><polygon points="582.99,281.88 596.57,281.88 596.57,281.15 582.99,281.15" fill="#bcbcbc"/><polygon points="613.54,281.88 621.54,275.77 621.54,272.16 613.54,278.26" fill="#626262"/><polygon points="599.96,278.26 613.54,278.26 621.54,272.16 607.96,272.16" fill="#8c8c8c"/><polygon points="599.96,281.88 613.54,281.88 613.54,278.26 599.96,278.26" fill="#bcbcbc"/><polygon points="630.51,281.88 638.51,275.77 638.51,272.16 630.51,278.26" fill="#626262"/><polygon points="616.93,278.26 630.51,278.26 638.51,272.16 624.93,272.16" fill="#8c8c8c"/><polygon points="616.93,281.88 630.51,281.88 630.51,278.26 616.93,278.26" fill="#bcbcbc"/><polygon points="647.48,281.88 655.48,275.77 655.48,268.55 647.48,274.65" fill="#626262"/><polygon points="633.91,274.65 647.48,274.65 655.48,268.55 641.91,268.55" fill="#8c8c8c"/><polygon points="633.91,281.88 647.48,281.88 647.48,274.65 633.91,274.65" fill="#bcbcbc"/><polygon points="664.45,281.88 672.45,275.77 672.45,257.72 664.45,263.82" fill="#626262"/><polygon points="650.88,263.82 664.45,263.82 672.45,257.72 658.88,257.72" fill="#8c8c8c"/><polygon points="650.88,281.88 664.45,281.88 664.45,263.82 650.88,263.82" fill="#bcbcbc"/><polygon points="681.42,281.88 689.42,275.77 689.42,272.16 681.42,278.26" fill="#626262"/><polygon points="667.85,278.26 681.42,278.26 689.42,272.16 675.85,272.16" fill="#8c8c8c"/><polygon points="667.85,281.88 681.42,281.88 681.42,278.26 667.85,278.26" fill="#bcbcbc"/><polygon points="698.39,281.88 706.39,275.77 706.39,275.05 698.39,281.15" fill="#626262"/><polygon points="684.82,281.15 698.39,281.15 706.39,275.05 692.82,275.05" fill="#8c8c8c"/><polygon points="684.82,281.88 698.39,281.88 698.39,281.15 684.82,281.15" fill="#bcbcbc"/><polygon points="715.36,281.88 723.36,275.77 723.36,264.94 715.36,271.05" fill="#626262"/><polygon points="701.79,271.05 715.36,271.05 723.36,264.94 709.79,264.94" fill="#8c8c8c"/><polygon points="701.79,281.88 715.36,281.88 715.36,271.05 701.79,271.05" fill="#bcbcbc"/><polygon points="732.33,281.88 740.33,275.77 740.33,268.55 732.33,274.65" fill="#626262"/><polygon points="718.76,274.65 732.33,274.65 740.33,268.55 726.76,268.55" fill="#8c8c8c"/><polygon points="718.76,281.88 732.33,281.88 732.33,274.65 718.76,274.65" fill="#bcbcbc"/><polygon points="749.3,281.88 757.3,275.77 757.3,257.72 749.3,263.82" fill="#626262"/><polygon points="735.73,263.82 749.3,263.82 757.3,257.72 743.73,257.72" fill="#8c8c8c"/><polygon points="735.73,281.88 749.3,281.88 749.3,263.82 735.73,263.82" fill="#bcbcbc"/></g>
<g stroke="#ffffff" stroke-width="1.4" stroke-linejoin="round"><polygon points="118.37,297.12 126.37,291.02 126.37,287.41 118.37,293.51" fill="#000000"/><polygon points="104.8,293.51 118.37,293.51 126.37,287.41 112.8,287.41" fill="#000000"/><polygon points="104.8,297.12 118.37,297.12 118.37,293.51 104.8,293.51" fill="#000000"/><polygon points="135.34,297.12 143.34,291.02 143.34,287.41 135.34,293.51" fill="#000000"/><polygon points="121.77,293.51 135.34,293.51 143.34,287.41 129.77,287.41" fill="#000000"/><polygon points="121.77,297.12 135.34,297.12 135.34,293.51 121.77,293.51" fill="#000000"/><polygon points="152.31,297.12 160.31,291.02 160.31,287.41 152.31,293.51" fill="#000000"/><polygon points="138.74,293.51 152.31,293.51 160.31,287.41 146.74,287.41" fill="#000000"/><polygon points="138.74,297.12 152.31,297.12 152.31,293.51 138.74,293.51" fill="#000000"/><polygon points="169.28,297.12 177.28,291.02 177.28,287.41 169.28,293.51" fill="#000000"/><polygon points="155.71,293.51 169.28,293.51 177.28,287.41 163.71,287.41" fill="#000000"/><polygon points="155.71,297.12 169.28,297.12 169.28,293.51 155.71,293.51" fill="#000000"/><polygon points="186.25,297.12 194.25,291.02 194.25,287.41 186.25,293.51" fill="#000000"/><polygon points="172.68,293.51 186.25,293.51 194.25,287.41 180.68,287.41" fill="#000000"/><polygon points="172.68,297.12 186.25,297.12 186.25,293.51 172.68,293.51" fill="#000000"/><polygon points="203.22,297.12 211.22,291.02 211.22,272.97 203.22,279.07" fill="#000000"/><polygon points="189.65,279.07 203.22,279.07 211.22,272.97 197.65,272.97" fill="#000000"/><polygon points="189.65,297.12 203.22,297.12 203.22,279.07 189.65,279.07" fill="#000000"/><polygon points="220.19,297.12 228.19,291.02 228.19,287.41 220.19,293.51" fill="#000000"/><polygon points="206.62,293.51 220.19,293.51 228.19,287.41 214.62,287.41" fill="#000000"/><polygon points="206.62,297.12 220.19,297.12 220.19,293.51 206.62,293.51" fill="#000000"/><polygon points="237.17,297.12 245.17,291.02 245.17,283.8 237.17,289.9" fill="#000000"/><polygon points="223.59,289.9 237.17,289.9 245.17,283.8 231.59,283.8" fill="#000000"/><polygon points="223.59,297.12 237.17,297.12 237.17,289.9 223.59,289.9" fill="#000000"/><polygon points="254.14,297.12 262.14,291.02 262.14,287.41 254.14,293.51" fill="#000000"/><polygon points="240.56,293.51 254.14,293.51 262.14,287.41 248.56,287.41" fill="#000000"/><polygon points="240.56,297.12 254.14,297.12 254.14,293.51 240.56,293.51" fill="#000000"/><polygon points="271.11,297.12 279.11,291.02 279.11,287.41 271.11,293.51" fill="#000000"/><polygon points="257.53,293.51 271.11,293.51 279.11,287.41 265.53,287.41" fill="#000000"/><polygon points="257.53,297.12 271.11,297.12 271.11,293.51 257.53,293.51" fill="#000000"/><polygon points="288.08,297.12 296.08,291.02 296.08,280.19 288.08,286.3" fill="#000000"/><polygon points="274.5,286.3 288.08,286.3 296.08,280.19 282.5,280.19" fill="#000000"/><polygon points="274.5,297.12 288.08,297.12 288.08,286.3 274.5,286.3" fill="#000000"/><polygon points="305.05,297.12 313.05,291.02 313.05,290.3 305.05,296.4" fill="#000000"/><polygon points="291.47,296.4 305.05,296.4 313.05,290.3 299.47,290.3" fill="#000000"/><polygon points="291.47,297.12 305.05,297.12 305.05,296.4 291.47,296.4" fill="#000000"/><polygon points="322.02,297.12 330.02,291.02 330.02,287.41 322.02,293.51" fill="#000000"/><polygon points="308.44,293.51 322.02,293.51 330.02,287.41 316.44,287.41" fill="#000000"/><polygon points="308.44,297.12 322.02,297.12 322.02,293.51 308.44,293.51" fill="#000000"/><polygon points="338.99,297.12 346.99,291.02 346.99,283.8 338.99,289.9" fill="#000000"/><polygon points="325.41,289.9 338.99,289.9 346.99,283.8 333.41,283.8" fill="#000000"/><polygon points="325.41,297.12 338.99,297.12 338.99,289.9 325.41,289.9" fill="#000000"/><polygon points="355.96,297.12 363.96,291.02 363.96,287.41 355.96,293.51" fill="#000000"/><polygon points="342.38,293.51 355.96,293.51 363.96,287.41 350.38,287.41" fill="#000000"/><polygon points="342.38,297.12 355.96,297.12 355.96,293.51 342.38,293.51" fill="#000000"/><polygon points="389.9,297.12 397.9,291.02 397.9,290.3 389.9,296.4" fill="#000000"/><polygon points="376.32,296.4 389.9,296.4 397.9,290.3 384.32,290.3" fill="#000000"/><polygon points="376.32,297.12 389.9,297.12 389.9,296.4 376.32,296.4" fill="#000000"/><polygon points="406.87,297.12 414.87,291.02 414.87,287.41 406.87,293.51" fill="#000000"/><polygon points="393.29,293.51 406.87,293.51 414.87,287.41 401.29,287.41" fill="#000000"/><polygon points="393.29,297.12 406.87,297.12 406.87,293.51 393.29,293.51" fill="#000000"/><polygon points="423.84,297.12 431.84,291.02 431.84,287.41 423.84,293.51" fill="#000000"/><polygon points="410.26,293.51 423.84,293.51 431.84,287.41 418.26,287.41" fill="#000000"/><polygon points="410.26,297.12 423.84,297.12 423.84,293.51 410.26,293.51" fill="#000000"/><polygon points="440.81,297.12 448.81,291.02 448.81,287.41 440.81,293.51" fill="#000000"/><polygon points="427.23,293.51 440.81,293.51 448.81,287.41 435.23,287.41" fill="#000000"/><polygon points="427.23,297.12 440.81,297.12 440.81,293.51 427.23,293.51" fill="#000000"/><polygon points="457.78,297.12 465.78,291.02 465.78,287.41 457.78,293.51" fill="#000000"/><polygon points="444.2,293.51 457.78,293.51 465.78,287.41 452.2,287.41" fill="#000000"/><polygon points="444.2,297.12 457.78,297.12 457.78,293.51 444.2,293.51" fill="#000000"/><polygon points="474.75,297.12 482.75,291.02 482.75,287.41 474.75,293.51" fill="#000000"/><polygon points="461.17,293.51 474.75,293.51 482.75,287.41 469.17,287.41" fill="#000000"/><polygon points="461.17,297.12 474.75,297.12 474.75,293.51 461.17,293.51" fill="#000000"/><polygon points="491.72,297.12 499.72,291.02 499.72,290.3 491.72,296.4" fill="#000000"/><polygon points="478.14,296.4 491.72,296.4 499.72,290.3 486.14,290.3" fill="#000000"/><polygon points="478.14,297.12 491.72,297.12 491.72,296.4 478.14,296.4" fill="#000000"/><polygon points="508.69,297.12 516.69,291.02 516.69,287.41 508.69,293.51" fill="#000000"/><polygon points="495.11,293.51 508.69,293.51 516.69,287.41 503.11,287.41" fill="#000000"/><polygon points="495.11,297.12 508.69,297.12 508.69,293.51 495.11,293.51" fill="#000000"/><polygon points="525.66,297.12 533.66,291.02 533.66,287.41 525.66,293.51" fill="#000000"/><polygon points="512.08,293.51 525.66,293.51 533.66,287.41 520.08,287.41" fill="#000000"/><polygon points="512.08,297.12 525.66,297.12 525.66,293.51 512.08,293.51" fill="#000000"/><polygon points="542.63,297.12 550.63,291.02 550.63,272.97 542.63,279.07" fill="#000000"/><polygon points="529.05,279.07 542.63,279.07 550.63,272.97 537.05,272.97" fill="#000000"/><polygon points="529.05,297.12 542.63,297.12 542.63,279.07 529.05,279.07" fill="#000000"/><polygon points="559.6,297.12 567.6,291.02 567.6,290.3 559.6,296.4" fill="#000000"/><polygon points="546.02,296.4 559.6,296.4 567.6,290.3 554.02,290.3" fill="#000000"/><polygon points="546.02,297.12 559.6,297.12 559.6,296.4 546.02,296.4" fill="#000000"/><polygon points="576.57,297.12 584.57,291.02 584.57,287.41 576.57,293.51" fill="#000000"/><polygon points="562.99,293.51 576.57,293.51 584.57,287.41 570.99,287.41" fill="#000000"/><polygon points="562.99,297.12 576.57,297.12 576.57,293.51 562.99,293.51" fill="#000000"/><polygon points="593.54,297.12 601.54,291.02 601.54,290.3 593.54,296.4" fill="#000000"/><polygon points="579.96,296.4 593.54,296.4 601.54,290.3 587.96,290.3" fill="#000000"/><polygon points="579.96,297.12 593.54,297.12 593.54,296.4 579.96,296.4" fill="#000000"/><polygon points="610.51,297.12 618.51,291.02 618.51,283.8 610.51,289.9" fill="#000000"/><polygon points="596.93,289.9 610.51,289.9 618.51,283.8 604.93,283.8" fill="#000000"/><polygon points="596.93,297.12 610.51,297.12 610.51,289.9 596.93,289.9" fill="#000000"/><polygon points="627.48,297.12 635.48,291.02 635.48,290.3 627.48,296.4" fill="#000000"/><polygon points="613.91,296.4 627.48,296.4 635.48,290.3 621.91,290.3" fill="#000000"/><polygon points="613.91,297.12 627.48,297.12 627.48,296.4 613.91,296.4" fill="#000000"/><polygon points="644.45,297.12 652.45,291.02 652.45,287.41 644.45,293.51" fill="#000000"/><polygon points="630.88,293.51 644.45,293.51 652.45,287.41 638.88,287.41" fill="#000000"/><polygon points="630.88,297.12 644.45,297.12 644.45,293.51 630.88,293.51" fill="#000000"/><polygon points="661.42,297.12 669.42,291.02 669.42,283.8 661.42,289.9" fill="#000000"/><polygon points="647.85,289.9 661.42,289.9 669.42,283.8 655.85,283.8" fill="#000000"/><polygon points="647.85,297.12 661.42,297.12 661.42,289.9 647.85,289.9" fill="#000000"/><polygon points="678.39,297.12 686.39,291.02 686.39,287.41 678.39,293.51" fill="#000000"/><polygon points="664.82,293.51 678.39,293.51 686.39,287.41 672.82,287.41" fill="#000000"/><polygon points="664.82,297.12 678.39,297.12 678.39,293.51 664.82,293.51" fill="#000000"/><polygon points="695.36,297.12 703.36,291.02 703.36,276.58 695.36,282.69" fill="#000000"/><polygon points="681.79,282.69 695.36,282.69 703.36,276.58 689.79,276.58" fill="#000000"/><polygon points="681.79,297.12 695.36,297.12 695.36,282.69 681.79,282.69" fill="#000000"/><polygon points="712.33,297.12 720.33,291.02 720.33,283.8 712.33,289.9" fill="#000000"/><polygon points="698.76,289.9 712.33,289.9 720.33,283.8 706.76,283.8" fill="#000000"/><polygon points="698.76,297.12 712.33,297.12 712.33,289.9 698.76,289.9" fill="#000000"/><polygon points="729.3,297.12 737.3,291.02 737.3,272.97 729.3,279.07" fill="#000000"/><polygon points="715.73,279.07 729.3,279.07 737.3,272.97 723.73,272.97" fill="#000000"/><polygon points="715.73,297.12 729.3,297.12 729.3,279.07 715.73,279.07" fill="#000000"/></g>
<g font-size="11.2" font-weight="bold" fill="#424242" text-anchor="end"><text transform="translate(109.29 310.7) rotate(-90)">2pter-p12</text><text transform="translate(126.26 310.7) rotate(-90)">2p25.3</text><text transform="translate(143.23 310.7) rotate(-90)">2p25.2</text><text transform="translate(160.2 310.7) rotate(-90)">2p25.1</text><text transform="translate(177.17 310.7) rotate(-90)">2p24.1</text><text transform="translate(194.14 310.7) rotate(-90)">2p23.3</text><text transform="translate(211.11 310.7) rotate(-90)">2p23</text><text transform="translate(228.08 310.7) rotate(-90)">2p21</text><text transform="translate(245.05 310.7) rotate(-90)">2p16.1</text><text transform="translate(262.02 310.7) rotate(-90)">2p13.3</text><text transform="translate(278.99 310.7) rotate(-90)">2p13.2</text><text transform="translate(295.96 310.7) rotate(-90)">2p13.1</text><text transform="translate(312.93 310.7) rotate(-90)">2p13</text><text transform="translate(329.9 310.7) rotate(-90)">2p12</text><text transform="translate(346.87 310.7) rotate(-90)">2p11.2</text><text transform="translate(380.81 310.7) rotate(-90)">2q11</text><text transform="translate(397.78 310.7) rotate(-90)">2q11.1</text><text transform="translate(414.75 310.7) rotate(-90)">2q11.2</text><text transform="translate(431.72 310.7) rotate(-90)">2q11-q13</text><text transform="translate(448.69 310.7) rotate(-90)">2q12</text><text transform="translate(465.66 310.7) rotate(-90)">2q13</text><text transform="translate(482.63 310.7) rotate(-90)">2q14.1</text><text transform="translate(499.6 310.7) rotate(-90)">2q14.2</text><text transform="translate(516.57 310.7) rotate(-90)">2q21</text><text transform="translate(533.54 310.7) rotate(-90)">2q21.1</text><text transform="translate(550.51 310.7) rotate(-90)">2q21.2</text><text transform="translate(567.48 310.7) rotate(-90)">2q31</text><text transform="translate(584.45 310.7) rotate(-90)">2q31.1</text><text transform="translate(601.42 310.7) rotate(-90)">2q33-q36</text><text transform="translate(618.39 310.7) rotate(-90)">2q33</text><text transform="translate(635.36 310.7) rotate(-90)">2q35</text><text transform="translate(652.33 310.7) rotate(-90)">2q36.1</text><text transform="translate(669.3 310.7) rotate(-90)">2q36.2</text><text transform="translate(686.27 310.7) rotate(-90)">2q37</text><text transform="translate(703.24 310.7) rotate(-90)">2q37.1</text><text transform="translate(720.21 310.7) rotate(-90)">2q37.3</text></g>
<text x="206.7" y="235.3" font-size="18.7" fill="#424242">Chromosome 2</text>
<polygon points="96.8,457.3 591,457.3 630,428.3 135.8,428.3" fill="#fff" stroke="#9c9c9c" stroke-width="1.4" stroke-linejoin="round"/>
<line x1="92.8" y1="457.3" x2="591" y2="457.3" stroke="#9c9c9c" stroke-width="1.6"/>
<path d="M96.8 457.3V461.5M113.27 457.3V461.5M129.75 457.3V461.5M146.22 457.3V461.5M162.69 457.3V461.5M179.17 457.3V461.5M195.64 457.3V461.5M212.11 457.3V461.5M228.59 457.3V461.5M245.06 457.3V461.5M261.53 457.3V461.5M278.01 457.3V461.5M294.48 457.3V461.5M310.95 457.3V461.5M327.43 457.3V461.5M343.9 457.3V461.5M360.37 457.3V461.5M376.85 457.3V461.5M393.32 457.3V461.5M409.79 457.3V461.5M426.27 457.3V461.5M442.74 457.3V461.5M459.21 457.3V461.5M475.69 457.3V461.5M492.16 457.3V461.5M508.63 457.3V461.5M525.11 457.3V461.5M541.58 457.3V461.5M558.05 457.3V461.5M574.53 457.3V461.5M591 457.3V461.5" stroke="#b0b0b0" stroke-width="1.1" fill="none"/>
<line x1="96.8" y1="363.5" x2="96.8" y2="461.3" stroke="#9c9c9c" stroke-width="1.3"/>
<text x="85.2" y="462.6" text-anchor="end" font-size="11.9" fill="#464646" stroke="#464646" stroke-width="0.35" textLength="6.15" lengthAdjust="spacingAndGlyphs">0</text>
<text x="85.2" y="431.33" text-anchor="end" font-size="11.9" fill="#464646" stroke="#464646" stroke-width="0.35" textLength="12.3" lengthAdjust="spacingAndGlyphs">10</text>
<text x="85.2" y="400.07" text-anchor="end" font-size="11.9" fill="#464646" stroke="#464646" stroke-width="0.35" textLength="12.3" lengthAdjust="spacingAndGlyphs">20</text>
<text x="85.2" y="368.8" text-anchor="end" font-size="11.9" fill="#464646" stroke="#464646" stroke-width="0.35" textLength="12.3" lengthAdjust="spacingAndGlyphs">30</text>
<path d="M92.8 426.03H100.8M92.8 394.77H100.8M92.8 363.5H100.8" stroke="#9c9c9c" stroke-width="1.3" fill="none"/>
<g stroke="#ffffff" stroke-width="1.4" stroke-linejoin="round"><polygon points="136.98,438.45 144.78,432.65 144.78,398.26 136.98,404.06" fill="#626262"/><polygon points="123.8,404.06 136.98,404.06 144.78,398.26 131.6,398.26" fill="#8c8c8c"/><polygon points="123.8,438.45 136.98,438.45 136.98,404.06 123.8,404.06" fill="#bcbcbc"/><polygon points="153.45,438.45 161.25,432.65 161.25,413.89 153.45,419.69" fill="#626262"/><polygon points="140.27,419.69 153.45,419.69 161.25,413.89 148.07,413.89" fill="#8c8c8c"/><polygon points="140.27,438.45 153.45,438.45 153.45,419.69 140.27,419.69" fill="#bcbcbc"/><polygon points="169.92,438.45 177.72,432.65 177.72,429.52 169.92,435.32" fill="#626262"/><polygon points="156.74,435.32 169.92,435.32 177.72,429.52 164.54,429.52" fill="#8c8c8c"/><polygon points="156.74,438.45 169.92,438.45 169.92,435.32 156.74,435.32" fill="#bcbcbc"/><polygon points="219.34,438.45 227.14,432.65 227.14,423.27 219.34,429.07" fill="#626262"/><polygon points="206.16,429.07 219.34,429.07 227.14,423.27 213.96,423.27" fill="#8c8c8c"/><polygon points="206.16,438.45 219.34,438.45 219.34,429.07 206.16,429.07" fill="#bcbcbc"/><polygon points="235.82,438.45 243.62,432.65 243.62,429.52 235.82,435.32" fill="#626262"/><polygon points="222.64,435.32 235.82,435.32 243.62,429.52 230.44,429.52" fill="#8c8c8c"/><polygon points="222.64,438.45 235.82,438.45 235.82,435.32 222.64,435.32" fill="#bcbcbc"/><polygon points="285.24,438.45 293.04,432.65 293.04,426.4 285.24,432.2" fill="#626262"/><polygon points="272.06,432.2 285.24,432.2 293.04,426.4 279.86,426.4" fill="#8c8c8c"/><polygon points="272.06,438.45 285.24,438.45 285.24,432.2 272.06,432.2" fill="#bcbcbc"/><polygon points="367.6,438.45 375.4,432.65 375.4,401.38 367.6,407.18" fill="#626262"/><polygon points="354.42,407.18 367.6,407.18 375.4,401.38 362.22,401.38" fill="#8c8c8c"/><polygon points="354.42,438.45 367.6,438.45 367.6,407.18 354.42,407.18" fill="#bcbcbc"/><polygon points="400.55,438.45 408.35,432.65 408.35,423.27 400.55,429.07" fill="#626262"/><polygon points="387.37,429.07 400.55,429.07 408.35,423.27 395.17,423.27" fill="#8c8c8c"/><polygon points="387.37,438.45 400.55,438.45 400.55,429.07 387.37,429.07" fill="#bcbcbc"/><polygon points="417.02,438.45 424.82,432.65 424.82,420.14 417.02,425.94" fill="#626262"/><polygon points="403.84,425.94 417.02,425.94 424.82,420.14 411.64,420.14" fill="#8c8c8c"/><polygon points="403.84,438.45 417.02,438.45 417.02,425.94 403.84,425.94" fill="#bcbcbc"/><polygon points="499.39,438.45 507.19,432.65 507.19,429.52 499.39,435.32" fill="#626262"/><polygon points="486.21,435.32 499.39,435.32 507.19,429.52 494.01,429.52" fill="#8c8c8c"/><polygon points="486.21,438.45 499.39,438.45 499.39,435.32 486.21,435.32" fill="#bcbcbc"/><polygon points="532.34,438.45 540.14,432.65 540.14,426.4 532.34,432.2" fill="#626262"/><polygon points="519.16,432.2 532.34,432.2 540.14,426.4 526.96,426.4" fill="#8c8c8c"/><polygon points="519.16,438.45 532.34,438.45 532.34,432.2 519.16,432.2" fill="#bcbcbc"/><polygon points="565.28,438.45 573.08,432.65 573.08,426.4 565.28,432.2" fill="#626262"/><polygon points="552.1,432.2 565.28,432.2 573.08,426.4 559.9,426.4" fill="#8c8c8c"/><polygon points="552.1,438.45 565.28,438.45 565.28,432.2 552.1,432.2" fill="#bcbcbc"/><polygon points="614.7,438.45 622.5,432.65 622.5,426.4 614.7,432.2" fill="#626262"/><polygon points="601.52,432.2 614.7,432.2 622.5,426.4 609.32,426.4" fill="#8c8c8c"/><polygon points="601.52,438.45 614.7,438.45 614.7,432.2 601.52,432.2" fill="#bcbcbc"/></g>
<g stroke="#ffffff" stroke-width="1.4" stroke-linejoin="round"><polygon points="117.48,452.95 125.28,447.15 125.28,422.14 117.48,427.94" fill="#000000"/><polygon points="104.3,427.94 117.48,427.94 125.28,422.14 112.1,422.14" fill="#000000"/><polygon points="104.3,452.95 117.48,452.95 117.48,427.94 104.3,427.94" fill="#000000"/><polygon points="133.95,452.95 141.75,447.15 141.75,444.02 133.95,449.82" fill="#000000"/><polygon points="120.77,449.82 133.95,449.82 141.75,444.02 128.57,444.02" fill="#000000"/><polygon points="120.77,452.95 133.95,452.95 133.95,449.82 120.77,449.82" fill="#000000"/><polygon points="150.42,452.95 158.22,447.15 158.22,446.52 150.42,452.32" fill="#000000"/><polygon points="137.24,452.32 150.42,452.32 158.22,446.52 145.04,446.52" fill="#000000"/><polygon points="137.24,452.95 150.42,452.95 150.42,452.32 137.24,452.32" fill="#000000"/><polygon points="166.9,452.95 174.7,447.15 174.7,444.02 166.9,449.82" fill="#000000"/><polygon points="153.72,449.82 166.9,449.82 174.7,444.02 161.52,444.02" fill="#000000"/><polygon points="153.72,452.95 166.9,452.95 166.9,449.82 153.72,449.82" fill="#000000"/><polygon points="183.37,452.95 191.17,447.15 191.17,437.77 183.37,443.57" fill="#000000"/><polygon points="170.19,443.57 183.37,443.57 191.17,437.77 177.99,437.77" fill="#000000"/><polygon points="170.19,452.95 183.37,452.95 183.37,443.57 170.19,443.57" fill="#000000"/><polygon points="199.84,452.95 207.64,447.15 207.64,444.02 199.84,449.82" fill="#000000"/><polygon points="186.66,449.82 199.84,449.82 207.64,444.02 194.46,444.02" fill="#000000"/><polygon points="186.66,452.95 199.84,452.95 199.84,449.82 186.66,449.82" fill="#000000"/><polygon points="216.32,452.95 224.12,447.15 224.12,444.02 216.32,449.82" fill="#000000"/><polygon points="203.14,449.82 216.32,449.82 224.12,444.02 210.94,444.02" fill="#000000"/><polygon points="203.14,452.95 216.32,452.95 216.32,449.82 203.14,449.82" fill="#000000"/><polygon points="232.79,452.95 240.59,447.15 240.59,444.02 232.79,449.82" fill="#000000"/><polygon points="219.61,449.82 232.79,449.82 240.59,444.02 227.41,444.02" fill="#000000"/><polygon points="219.61,452.95 232.79,452.95 232.79,449.82 219.61,449.82" fill="#000000"/><polygon points="265.74,452.95 273.54,447.15 273.54,440.9 265.74,446.7" fill="#000000"/><polygon points="252.56,446.7 265.74,446.7 273.54,440.9 260.36,440.9" fill="#000000"/><polygon points="252.56,452.95 265.74,452.95 265.74,446.7 252.56,446.7" fill="#000000"/><polygon points="282.21,452.95 290.01,447.15 290.01,444.02 282.21,449.82" fill="#000000"/><polygon points="269.03,449.82 282.21,449.82 290.01,444.02 276.83,444.02" fill="#000000"/><polygon points="269.03,452.95 282.21,452.95 282.21,449.82 269.03,449.82" fill="#000000"/><polygon points="298.68,452.95 306.48,447.15 306.48,444.02 298.68,449.82" fill="#000000"/><polygon points="285.5,449.82 298.68,449.82 306.48,444.02 293.3,444.02" fill="#000000"/><polygon points="285.5,452.95 298.68,452.95 298.68,449.82 285.5,449.82" fill="#000000"/><polygon points="315.16,452.95 322.96,447.15 322.96,446.52 315.16,452.32" fill="#000000"/><polygon points="301.98,452.32 315.16,452.32 322.96,446.52 309.78,446.52" fill="#000000"/><polygon points="301.98,452.95 315.16,452.95 315.16,452.32 301.98,452.32" fill="#000000"/><polygon points="331.63,452.95 339.43,447.15 339.43,425.89 331.63,431.69" fill="#000000"/><polygon points="318.45,431.69 331.63,431.69 339.43,425.89 326.25,425.89" fill="#000000"/><polygon points="318.45,452.95 331.63,452.95 331.63,431.69 318.45,431.69" fill="#000000"/><polygon points="348.1,452.95 355.9,447.15 355.9,410.57 348.1,416.37" fill="#000000"/><polygon points="334.92,416.37 348.1,416.37 355.9,410.57 342.72,410.57" fill="#000000"/><polygon points="334.92,452.95 348.1,452.95 348.1,416.37 334.92,416.37" fill="#000000"/><polygon points="364.58,452.95 372.38,447.15 372.38,444.02 364.58,449.82" fill="#000000"/><polygon points="351.4,449.82 364.58,449.82 372.38,444.02 359.2,444.02" fill="#000000"/><polygon points="351.4,452.95 364.58,452.95 364.58,449.82 351.4,449.82" fill="#000000"/><polygon points="381.05,452.95 388.85,447.15 388.85,437.77 381.05,443.57" fill="#000000"/><polygon points="367.87,443.57 381.05,443.57 388.85,437.77 375.67,437.77" fill="#000000"/><polygon points="367.87,452.95 381.05,452.95 381.05,443.57 367.87,443.57" fill="#000000"/><polygon points="397.52,452.95 405.32,447.15 405.32,444.02 397.52,449.82" fill="#000000"/><polygon points="384.34,449.82 397.52,449.82 405.32,444.02 392.14,444.02" fill="#000000"/><polygon points="384.34,452.95 397.52,452.95 397.52,449.82 384.34,449.82" fill="#000000"/><polygon points="414,452.95 421.8,447.15 421.8,440.9 414,446.7" fill="#000000"/><polygon points="400.82,446.7 414,446.7 421.8,440.9 408.62,440.9" fill="#000000"/><polygon points="400.82,452.95 414,452.95 414,446.7 400.82,446.7" fill="#000000"/><polygon points="430.47,452.95 438.27,447.15 438.27,440.9 430.47,446.7" fill="#000000"/><polygon points="417.29,446.7 430.47,446.7 438.27,440.9 425.09,440.9" fill="#000000"/><polygon points="417.29,452.95 430.47,452.95 430.47,446.7 417.29,446.7" fill="#000000"/><polygon points="446.94,452.95 454.74,447.15 454.74,444.02 446.94,449.82" fill="#000000"/><polygon points="433.76,449.82 446.94,449.82 454.74,444.02 441.56,444.02" fill="#000000"/><polygon points="433.76,452.95 446.94,452.95 446.94,449.82 433.76,449.82" fill="#000000"/><polygon points="463.42,452.95 471.22,447.15 471.22,444.02 463.42,449.82" fill="#000000"/><polygon points="450.24,449.82 463.42,449.82 471.22,444.02 458.04,444.02" fill="#000000"/><polygon points="450.24,452.95 463.42,452.95 463.42,449.82 450.24,449.82" fill="#000000"/><polygon points="479.89,452.95 487.69,447.15 487.69,446.52 479.89,452.32" fill="#000000"/><polygon points="466.71,452.32 479.89,452.32 487.69,446.52 474.51,446.52" fill="#000000"/><polygon points="466.71,452.95 479.89,452.95 479.89,452.32 466.71,452.32" fill="#000000"/><polygon points="496.36,452.95 504.16,447.15 504.16,444.02 496.36,449.82" fill="#000000"/><polygon points="483.18,449.82 496.36,449.82 504.16,444.02 490.98,444.02" fill="#000000"/><polygon points="483.18,452.95 496.36,452.95 496.36,449.82 483.18,449.82" fill="#000000"/><polygon points="512.84,452.95 520.64,447.15 520.64,444.02 512.84,449.82" fill="#000000"/><polygon points="499.66,449.82 512.84,449.82 520.64,444.02 507.46,444.02" fill="#000000"/><polygon points="499.66,452.95 512.84,452.95 512.84,449.82 499.66,449.82" fill="#000000"/><polygon points="529.31,452.95 537.11,447.15 537.11,444.02 529.31,449.82" fill="#000000"/><polygon points="516.13,449.82 529.31,449.82 537.11,444.02 523.93,444.02" fill="#000000"/><polygon points="516.13,452.95 529.31,452.95 529.31,449.82 516.13,449.82" fill="#000000"/><polygon points="545.78,452.95 553.58,447.15 553.58,437.77 545.78,443.57" fill="#000000"/><polygon points="532.6,443.57 545.78,443.57 553.58,437.77 540.4,437.77" fill="#000000"/><polygon points="532.6,452.95 545.78,452.95 545.78,443.57 532.6,443.57" fill="#000000"/><polygon points="562.26,452.95 570.06,447.15 570.06,444.02 562.26,449.82" fill="#000000"/><polygon points="549.08,449.82 562.26,449.82 570.06,444.02 556.88,444.02" fill="#000000"/><polygon points="549.08,452.95 562.26,452.95 562.26,449.82 549.08,449.82" fill="#000000"/><polygon points="578.73,452.95 586.53,447.15 586.53,444.02 578.73,449.82" fill="#000000"/><polygon points="565.55,449.82 578.73,449.82 586.53,444.02 573.35,444.02" fill="#000000"/><polygon points="565.55,452.95 578.73,452.95 578.73,449.82 565.55,449.82" fill="#000000"/><polygon points="595.2,452.95 603,447.15 603,446.52 595.2,452.32" fill="#000000"/><polygon points="582.02,452.32 595.2,452.32 603,446.52 589.82,446.52" fill="#000000"/><polygon points="582.02,452.95 595.2,452.95 595.2,452.32 582.02,452.32" fill="#000000"/></g>
<g font-size="11.2" font-weight="bold" fill="#424242" text-anchor="end"><text transform="translate(108.74 465.9) rotate(-90)">11p15.5</text><text transform="translate(125.21 465.9) rotate(-90)">11p15.4</text><text transform="translate(141.68 465.9) rotate(-90)">11p15</text><text transform="translate(158.16 465.9) rotate(-90)">11p15.3</text><text transform="translate(174.63 465.9) rotate(-90)">11p15.2</text><text transform="translate(191.1 465.9) rotate(-90)">11p13</text><text transform="translate(207.58 465.9) rotate(-90)">11p11.2</text><text transform="translate(224.05 465.9) rotate(-90)">11p11.12-p12</text><text transform="translate(257 465.9) rotate(-90)">11q11</text><text transform="translate(273.47 465.9) rotate(-90)">11q12.1</text><text transform="translate(289.94 465.9) rotate(-90)">11q12.2</text><text transform="translate(306.42 465.9) rotate(-90)">11q12.3</text><text transform="translate(322.89 465.9) rotate(-90)">11q13</text><text transform="translate(339.36 465.9) rotate(-90)">11q13.1</text><text transform="translate(355.84 465.9) rotate(-90)">11q13.2</text><text transform="translate(372.31 465.9) rotate(-90)">11q13.3</text><text transform="translate(388.78 465.9) rotate(-90)">11q13.4</text><text transform="translate(405.26 465.9) rotate(-90)">11q13.5</text><text transform="translate(421.73 465.9) rotate(-90)">11q14</text><text transform="translate(438.2 465.9) rotate(-90)">11q14.1</text><text transform="translate(454.68 465.9) rotate(-90)">11q15.5</text><text transform="translate(471.15 465.9) rotate(-90)">11q21</text><text transform="translate(487.62 465.9) rotate(-90)">11q22.3-q23.1</text><text transform="translate(504.1 465.9) rotate(-90)">11q23</text><text transform="translate(520.57 465.9) rotate(-90)">11q23.2</text><text transform="translate(537.04 465.9) rotate(-90)">11q23.3</text><text transform="translate(553.52 465.9) rotate(-90)">11q23-q24</text><text transform="translate(569.99 465.9) rotate(-90)">11q24.2</text><text transform="translate(586.46 465.9) rotate(-90)">11q25</text></g>
<text x="206.7" y="387.8" font-size="18.7" fill="#424242">Chromosome 11</text>
<polygon points="97.1,632.7 425.5,632.7 466.5,603.2 138.1,603.2" fill="#fff" stroke="#9c9c9c" stroke-width="1.4" stroke-linejoin="round"/>
<line x1="93.1" y1="632.7" x2="425.5" y2="632.7" stroke="#9c9c9c" stroke-width="1.6"/>
<path d="M97.1 632.7V636.9M114.38 632.7V636.9M131.67 632.7V636.9M148.95 632.7V636.9M166.24 632.7V636.9M183.52 632.7V636.9M200.81 632.7V636.9M218.09 632.7V636.9M235.37 632.7V636.9M252.66 632.7V636.9M269.94 632.7V636.9M287.23 632.7V636.9M304.51 632.7V636.9M321.79 632.7V636.9M339.08 632.7V636.9M356.36 632.7V636.9M373.65 632.7V636.9M390.93 632.7V636.9M408.22 632.7V636.9M425.5 632.7V636.9" stroke="#b0b0b0" stroke-width="1.1" fill="none"/>
<line x1="97.1" y1="543.8" x2="97.1" y2="636.7" stroke="#9c9c9c" stroke-width="1.3"/>
<text x="85.5" y="638" text-anchor="end" font-size="11.9" fill="#464646" stroke="#464646" stroke-width="0.35" textLength="6.15" lengthAdjust="spacingAndGlyphs">0</text>
<text x="85.5" y="608.37" text-anchor="end" font-size="11.9" fill="#464646" stroke="#464646" stroke-width="0.35" textLength="12.3" lengthAdjust="spacingAndGlyphs">10</text>
<text x="85.5" y="578.73" text-anchor="end" font-size="11.9" fill="#464646" stroke="#464646" stroke-width="0.35" textLength="12.3" lengthAdjust="spacingAndGlyphs">20</text>
<text x="85.5" y="549.1" text-anchor="end" font-size="11.9" fill="#464646" stroke="#464646" stroke-width="0.35" textLength="12.3" lengthAdjust="spacingAndGlyphs">30</text>
<path d="M93.1 603.07H101.1M93.1 573.43H101.1M93.1 543.8H101.1" stroke="#9c9c9c" stroke-width="1.3" fill="none"/>
<g stroke="#ffffff" stroke-width="1.4" stroke-linejoin="round"><polygon points="139.31,613.53 147.51,607.63 147.51,524.65 139.31,530.55" fill="#626262"/><polygon points="125.48,530.55 139.31,530.55 147.51,524.65 133.68,524.65" fill="#8c8c8c"/><polygon points="125.48,613.53 139.31,613.53 139.31,530.55 125.48,530.55" fill="#bcbcbc"/><polygon points="156.59,613.53 164.79,607.63 164.79,607.03 156.59,612.93" fill="#626262"/><polygon points="142.76,612.93 156.59,612.93 164.79,607.03 150.96,607.03" fill="#8c8c8c"/><polygon points="142.76,613.53 156.59,613.53 156.59,612.93 142.76,612.93" fill="#bcbcbc"/><polygon points="173.87,613.53 182.07,607.63 182.07,604.66 173.87,610.56" fill="#626262"/><polygon points="160.05,610.56 173.87,610.56 182.07,604.66 168.25,604.66" fill="#8c8c8c"/><polygon points="160.05,613.53 173.87,613.53 173.87,610.56 160.05,610.56" fill="#bcbcbc"/><polygon points="191.16,613.53 199.36,607.63 199.36,604.66 191.16,610.56" fill="#626262"/><polygon points="177.33,610.56 191.16,610.56 199.36,604.66 185.53,604.66" fill="#8c8c8c"/><polygon points="177.33,613.53 191.16,613.53 191.16,610.56 177.33,610.56" fill="#bcbcbc"/><polygon points="208.44,613.53 216.64,607.63 216.64,577.99 208.44,583.89" fill="#626262"/><polygon points="194.62,583.89 208.44,583.89 216.64,577.99 202.82,577.99" fill="#8c8c8c"/><polygon points="194.62,613.53 208.44,613.53 208.44,583.89 194.62,583.89" fill="#bcbcbc"/><polygon points="225.73,613.53 233.93,607.63 233.93,607.03 225.73,612.93" fill="#626262"/><polygon points="211.9,612.93 225.73,612.93 233.93,607.03 220.1,607.03" fill="#8c8c8c"/><polygon points="211.9,613.53 225.73,613.53 225.73,612.93 211.9,612.93" fill="#bcbcbc"/><polygon points="260.3,613.53 268.5,607.63 268.5,604.66 260.3,610.56" fill="#626262"/><polygon points="246.47,610.56 260.3,610.56 268.5,604.66 254.67,604.66" fill="#8c8c8c"/><polygon points="246.47,613.53 260.3,613.53 260.3,610.56 246.47,610.56" fill="#bcbcbc"/><polygon points="277.58,613.53 285.78,607.63 285.78,604.66 277.58,610.56" fill="#626262"/><polygon points="263.75,610.56 277.58,610.56 285.78,604.66 271.95,604.66" fill="#8c8c8c"/><polygon points="263.75,613.53 277.58,613.53 277.58,610.56 263.75,610.56" fill="#bcbcbc"/><polygon points="294.86,613.53 303.06,607.63 303.06,604.66 294.86,610.56" fill="#626262"/><polygon points="281.04,610.56 294.86,610.56 303.06,604.66 289.24,604.66" fill="#8c8c8c"/><polygon points="281.04,613.53 294.86,613.53 294.86,610.56 281.04,610.56" fill="#bcbcbc"/><polygon points="312.15,613.53 320.35,607.63 320.35,604.66 312.15,610.56" fill="#626262"/><polygon points="298.32,610.56 312.15,610.56 320.35,604.66 306.52,604.66" fill="#8c8c8c"/><polygon points="298.32,613.53 312.15,613.53 312.15,610.56 298.32,610.56" fill="#bcbcbc"/><polygon points="329.43,613.53 337.63,607.63 337.63,593.99 329.43,599.89" fill="#626262"/><polygon points="315.6,599.89 329.43,599.89 337.63,593.99 323.8,593.99" fill="#8c8c8c"/><polygon points="315.6,613.53 329.43,613.53 329.43,599.89 315.6,599.89" fill="#bcbcbc"/><polygon points="346.72,613.53 354.92,607.63 354.92,597.55 346.72,603.45" fill="#626262"/><polygon points="332.89,603.45 346.72,603.45 354.92,597.55 341.09,597.55" fill="#8c8c8c"/><polygon points="332.89,613.53 346.72,613.53 346.72,603.45 332.89,603.45" fill="#bcbcbc"/><polygon points="364,613.53 372.2,607.63 372.2,604.66 364,610.56" fill="#626262"/><polygon points="350.17,610.56 364,610.56 372.2,604.66 358.37,604.66" fill="#8c8c8c"/><polygon points="350.17,613.53 364,613.53 364,610.56 350.17,610.56" fill="#bcbcbc"/><polygon points="381.28,613.53 389.48,607.63 389.48,598.74 381.28,604.64" fill="#626262"/><polygon points="367.46,604.64 381.28,604.64 389.48,598.74 375.66,598.74" fill="#8c8c8c"/><polygon points="367.46,613.53 381.28,613.53 381.28,604.64 367.46,604.64" fill="#bcbcbc"/><polygon points="398.57,613.53 406.77,607.63 406.77,594.29 398.57,600.19" fill="#626262"/><polygon points="384.74,600.19 398.57,600.19 406.77,594.29 392.94,594.29" fill="#8c8c8c"/><polygon points="384.74,613.53 398.57,613.53 398.57,600.19 384.74,600.19" fill="#bcbcbc"/><polygon points="415.85,613.53 424.05,607.63 424.05,601.7 415.85,607.6" fill="#626262"/><polygon points="402.03,607.6 415.85,607.6 424.05,601.7 410.23,601.7" fill="#8c8c8c"/><polygon points="402.03,613.53 415.85,613.53 415.85,607.6 402.03,607.6" fill="#bcbcbc"/><polygon points="433.14,613.53 441.34,607.63 441.34,604.66 433.14,610.56" fill="#626262"/><polygon points="419.31,610.56 433.14,610.56 441.34,604.66 427.51,604.66" fill="#8c8c8c"/><polygon points="419.31,613.53 433.14,613.53 433.14,610.56 419.31,610.56" fill="#bcbcbc"/><polygon points="450.42,613.53 458.62,607.63 458.62,597.85 450.42,603.75" fill="#626262"/><polygon points="436.59,603.75 450.42,603.75 458.62,597.85 444.79,597.85" fill="#8c8c8c"/><polygon points="436.59,613.53 450.42,613.53 450.42,603.75 436.59,603.75" fill="#bcbcbc"/></g>
<g stroke="#ffffff" stroke-width="1.4" stroke-linejoin="round"><polygon points="118.81,628.28 127.01,622.38 127.01,542.96 118.81,548.86" fill="#000000"/><polygon points="104.98,548.86 118.81,548.86 127.01,542.96 113.18,542.96" fill="#000000"/><polygon points="104.98,628.28 118.81,628.28 118.81,548.86 104.98,548.86" fill="#000000"/><polygon points="136.09,628.28 144.29,622.38 144.29,619.41 136.09,625.31" fill="#000000"/><polygon points="122.26,625.31 136.09,625.31 144.29,619.41 130.46,619.41" fill="#000000"/><polygon points="122.26,628.28 136.09,628.28 136.09,625.31 122.26,625.31" fill="#000000"/><polygon points="153.37,628.28 161.57,622.38 161.57,616.45 153.37,622.35" fill="#000000"/><polygon points="139.55,622.35 153.37,622.35 161.57,616.45 147.75,616.45" fill="#000000"/><polygon points="139.55,628.28 153.37,628.28 153.37,622.35 139.55,622.35" fill="#000000"/><polygon points="170.66,628.28 178.86,622.38 178.86,621.78 170.66,627.68" fill="#000000"/><polygon points="156.83,627.68 170.66,627.68 178.86,621.78 165.03,621.78" fill="#000000"/><polygon points="156.83,628.28 170.66,628.28 170.66,627.68 156.83,627.68" fill="#000000"/><polygon points="187.94,628.28 196.14,622.38 196.14,589.78 187.94,595.68" fill="#000000"/><polygon points="174.12,595.68 187.94,595.68 196.14,589.78 182.32,589.78" fill="#000000"/><polygon points="174.12,628.28 187.94,628.28 187.94,595.68 174.12,595.68" fill="#000000"/><polygon points="205.23,628.28 213.43,622.38 213.43,619.41 205.23,625.31" fill="#000000"/><polygon points="191.4,625.31 205.23,625.31 213.43,619.41 199.6,619.41" fill="#000000"/><polygon points="191.4,628.28 205.23,628.28 205.23,625.31 191.4,625.31" fill="#000000"/><polygon points="274.36,628.28 282.56,622.38 282.56,619.41 274.36,625.31" fill="#000000"/><polygon points="260.54,625.31 274.36,625.31 282.56,619.41 268.74,619.41" fill="#000000"/><polygon points="260.54,628.28 274.36,628.28 274.36,625.31 260.54,625.31" fill="#000000"/><polygon points="326.22,628.28 334.42,622.38 334.42,619.41 326.22,625.31" fill="#000000"/><polygon points="312.39,625.31 326.22,625.31 334.42,619.41 320.59,619.41" fill="#000000"/><polygon points="312.39,628.28 326.22,628.28 326.22,625.31 312.39,625.31" fill="#000000"/><polygon points="343.5,628.28 351.7,622.38 351.7,616.45 343.5,622.35" fill="#000000"/><polygon points="329.67,622.35 343.5,622.35 351.7,616.45 337.87,616.45" fill="#000000"/><polygon points="329.67,628.28 343.5,628.28 343.5,622.35 329.67,622.35" fill="#000000"/><polygon points="378.07,628.28 386.27,622.38 386.27,610.52 378.07,616.42" fill="#000000"/><polygon points="364.24,616.42 378.07,616.42 386.27,610.52 372.44,610.52" fill="#000000"/><polygon points="364.24,628.28 378.07,628.28 378.07,616.42 364.24,616.42" fill="#000000"/><polygon points="395.35,628.28 403.55,622.38 403.55,616.45 395.35,622.35" fill="#000000"/><polygon points="381.53,622.35 395.35,622.35 403.55,616.45 389.73,616.45" fill="#000000"/><polygon points="381.53,628.28 395.35,628.28 395.35,622.35 381.53,622.35" fill="#000000"/><polygon points="429.92,628.28 438.12,622.38 438.12,598.67 429.92,604.57" fill="#000000"/><polygon points="416.09,604.57 429.92,604.57 438.12,598.67 424.29,598.67" fill="#000000"/><polygon points="416.09,628.28 429.92,628.28 429.92,604.57 416.09,604.57" fill="#000000"/></g>
<g font-size="11.2" font-weight="bold" fill="#424242" text-anchor="end"><text transform="translate(109.44 641.9) rotate(-90)">16p13.3</text><text transform="translate(126.73 641.9) rotate(-90)">16p13.12</text><text transform="translate(144.01 641.9) rotate(-90)">16p12.1</text><text transform="translate(161.29 641.9) rotate(-90)">16p12</text><text transform="translate(178.58 641.9) rotate(-90)">16p11.2</text><text transform="translate(195.86 641.9) rotate(-90)">16p11</text><text transform="translate(230.43 641.9) rotate(-90)">16q12.1</text><text transform="translate(247.72 641.9) rotate(-90)">16q13</text><text transform="translate(265 641.9) rotate(-90)">16q13-q21</text><text transform="translate(282.28 641.9) rotate(-90)">16q21</text><text transform="translate(299.57 641.9) rotate(-90)">16q22</text><text transform="translate(316.85 641.9) rotate(-90)">16q22.1</text><text transform="translate(334.14 641.9) rotate(-90)">16q22.3</text><text transform="translate(351.42 641.9) rotate(-90)">16q23.1</text><text transform="translate(368.71 641.9) rotate(-90)">16q24</text><text transform="translate(385.99 641.9) rotate(-90)">16q24.1</text><text transform="translate(403.27 641.9) rotate(-90)">16q24.2</text><text transform="translate(420.56 641.9) rotate(-90)">16q24.3</text></g>
<text x="206.7" y="562.7" font-size="18.7" fill="#424242">Chromosome 16</text>
<polygon points="96.9,778.7 416,778.7 456,749.7 136.9,749.7" fill="#fff" stroke="#9c9c9c" stroke-width="1.4" stroke-linejoin="round"/>
<line x1="92.9" y1="778.7" x2="416" y2="778.7" stroke="#9c9c9c" stroke-width="1.6"/>
<path d="M96.9 778.7V782.9M113.69 778.7V782.9M130.49 778.7V782.9M147.28 778.7V782.9M164.08 778.7V782.9M180.87 778.7V782.9M197.67 778.7V782.9M214.46 778.7V782.9M231.26 778.7V782.9M248.05 778.7V782.9M264.85 778.7V782.9M281.64 778.7V782.9M298.44 778.7V782.9M315.23 778.7V782.9M332.03 778.7V782.9M348.82 778.7V782.9M365.62 778.7V782.9M382.41 778.7V782.9M399.21 778.7V782.9M416 778.7V782.9" stroke="#b0b0b0" stroke-width="1.1" fill="none"/>
<line x1="96.9" y1="692.5" x2="96.9" y2="782.7" stroke="#9c9c9c" stroke-width="1.3"/>
<text x="85.3" y="784" text-anchor="end" font-size="11.9" fill="#464646" stroke="#464646" stroke-width="0.35" textLength="6.15" lengthAdjust="spacingAndGlyphs">0</text>
<text x="85.3" y="755.27" text-anchor="end" font-size="11.9" fill="#464646" stroke="#464646" stroke-width="0.35" textLength="12.3" lengthAdjust="spacingAndGlyphs">10</text>
<text x="85.3" y="726.53" text-anchor="end" font-size="11.9" fill="#464646" stroke="#464646" stroke-width="0.35" textLength="12.3" lengthAdjust="spacingAndGlyphs">20</text>
<text x="85.3" y="697.8" text-anchor="end" font-size="11.9" fill="#464646" stroke="#464646" stroke-width="0.35" textLength="12.3" lengthAdjust="spacingAndGlyphs">30</text>
<path d="M92.9 749.97H100.9M92.9 721.23H100.9M92.9 692.5H100.9" stroke="#9c9c9c" stroke-width="1.3" fill="none"/>
<g stroke="#ffffff" stroke-width="1.4" stroke-linejoin="round"><polygon points="138.02,759.85 146.02,754.05 146.02,751.18 138.02,756.98" fill="#626262"/><polygon points="124.58,756.98 138.02,756.98 146.02,751.18 132.58,751.18" fill="#8c8c8c"/><polygon points="124.58,759.85 138.02,759.85 138.02,756.98 124.58,756.98" fill="#bcbcbc"/><polygon points="154.81,759.85 162.81,754.05 162.81,738.82 154.81,744.62" fill="#626262"/><polygon points="141.37,744.62 154.81,744.62 162.81,738.82 149.37,738.82" fill="#8c8c8c"/><polygon points="141.37,759.85 154.81,759.85 154.81,744.62 141.37,744.62" fill="#bcbcbc"/><polygon points="171.6,759.85 179.6,754.05 179.6,751.18 171.6,756.98" fill="#626262"/><polygon points="158.17,756.98 171.6,756.98 179.6,751.18 166.17,751.18" fill="#8c8c8c"/><polygon points="158.17,759.85 171.6,759.85 171.6,756.98 158.17,756.98" fill="#bcbcbc"/><polygon points="188.4,759.85 196.4,754.05 196.4,751.18 188.4,756.98" fill="#626262"/><polygon points="174.96,756.98 188.4,756.98 196.4,751.18 182.96,751.18" fill="#8c8c8c"/><polygon points="174.96,759.85 188.4,759.85 188.4,756.98 174.96,756.98" fill="#bcbcbc"/><polygon points="205.19,759.85 213.19,754.05 213.19,739.68 205.19,745.48" fill="#626262"/><polygon points="191.76,745.48 205.19,745.48 213.19,739.68 199.76,739.68" fill="#8c8c8c"/><polygon points="191.76,759.85 205.19,759.85 205.19,745.48 191.76,745.48" fill="#bcbcbc"/><polygon points="238.78,759.85 246.78,754.05 246.78,742.56 238.78,748.36" fill="#626262"/><polygon points="225.35,748.36 238.78,748.36 246.78,742.56 233.35,742.56" fill="#8c8c8c"/><polygon points="225.35,759.85 238.78,759.85 238.78,748.36 225.35,748.36" fill="#bcbcbc"/><polygon points="255.58,759.85 263.58,754.05 263.58,751.18 255.58,756.98" fill="#626262"/><polygon points="242.14,756.98 255.58,756.98 263.58,751.18 250.14,751.18" fill="#8c8c8c"/><polygon points="242.14,759.85 255.58,759.85 255.58,756.98 242.14,756.98" fill="#bcbcbc"/><polygon points="272.37,759.85 280.37,754.05 280.37,728.19 272.37,733.99" fill="#626262"/><polygon points="258.94,733.99 272.37,733.99 280.37,728.19 266.94,728.19" fill="#8c8c8c"/><polygon points="258.94,759.85 272.37,759.85 272.37,733.99 258.94,733.99" fill="#bcbcbc"/><polygon points="289.17,759.85 297.17,754.05 297.17,745.43 289.17,751.23" fill="#626262"/><polygon points="275.73,751.23 289.17,751.23 297.17,745.43 283.73,745.43" fill="#8c8c8c"/><polygon points="275.73,759.85 289.17,759.85 289.17,751.23 275.73,751.23" fill="#bcbcbc"/><polygon points="305.96,759.85 313.96,754.05 313.96,732.5 305.96,738.3" fill="#626262"/><polygon points="292.53,738.3 305.96,738.3 313.96,732.5 300.53,732.5" fill="#8c8c8c"/><polygon points="292.53,759.85 305.96,759.85 305.96,738.3 292.53,738.3" fill="#bcbcbc"/><polygon points="322.76,759.85 330.76,754.05 330.76,751.18 322.76,756.98" fill="#626262"/><polygon points="309.32,756.98 322.76,756.98 330.76,751.18 317.32,751.18" fill="#8c8c8c"/><polygon points="309.32,759.85 322.76,759.85 322.76,756.98 309.32,756.98" fill="#bcbcbc"/><polygon points="339.55,759.85 347.55,754.05 347.55,748.3 339.55,754.1" fill="#626262"/><polygon points="326.12,754.1 339.55,754.1 347.55,748.3 334.12,748.3" fill="#8c8c8c"/><polygon points="326.12,759.85 339.55,759.85 339.55,754.1 326.12,754.1" fill="#bcbcbc"/><polygon points="356.35,759.85 364.35,754.05 364.35,745.43 356.35,751.23" fill="#626262"/><polygon points="342.91,751.23 356.35,751.23 364.35,745.43 350.91,745.43" fill="#8c8c8c"/><polygon points="342.91,759.85 356.35,759.85 356.35,751.23 342.91,751.23" fill="#bcbcbc"/><polygon points="373.14,759.85 381.14,754.05 381.14,751.18 373.14,756.98" fill="#626262"/><polygon points="359.71,756.98 373.14,756.98 381.14,751.18 367.71,751.18" fill="#8c8c8c"/><polygon points="359.71,759.85 373.14,759.85 373.14,756.98 359.71,756.98" fill="#bcbcbc"/><polygon points="389.94,759.85 397.94,754.05 397.94,732.5 389.94,738.3" fill="#626262"/><polygon points="376.5,738.3 389.94,738.3 397.94,732.5 384.5,732.5" fill="#8c8c8c"/><polygon points="376.5,759.85 389.94,759.85 389.94,738.3 376.5,738.3" fill="#bcbcbc"/><polygon points="406.73,759.85 414.73,754.05 414.73,742.56 406.73,748.36" fill="#626262"/><polygon points="393.3,748.36 406.73,748.36 414.73,742.56 401.3,742.56" fill="#8c8c8c"/><polygon points="393.3,759.85 406.73,759.85 406.73,748.36 393.3,748.36" fill="#bcbcbc"/><polygon points="423.53,759.85 431.53,754.05 431.53,745.43 423.53,751.23" fill="#626262"/><polygon points="410.09,751.23 423.53,751.23 431.53,745.43 418.09,745.43" fill="#8c8c8c"/><polygon points="410.09,759.85 423.53,759.85 423.53,751.23 410.09,751.23" fill="#bcbcbc"/><polygon points="440.32,759.85 448.32,754.05 448.32,705.2 440.32,711" fill="#626262"/><polygon points="426.88,711 440.32,711 448.32,705.2 434.88,705.2" fill="#8c8c8c"/><polygon points="426.88,759.85 440.32,759.85 440.32,711 426.88,711" fill="#bcbcbc"/></g>
<g stroke="#ffffff" stroke-width="1.4" stroke-linejoin="round"><polygon points="118.02,774.35 126.02,768.55 126.02,765.68 118.02,771.48" fill="#000000"/><polygon points="104.58,771.48 118.02,771.48 126.02,765.68 112.58,765.68" fill="#000000"/><polygon points="104.58,774.35 118.02,774.35 118.02,771.48 104.58,771.48" fill="#000000"/><polygon points="134.81,774.35 142.81,768.55 142.81,761.37 134.81,767.17" fill="#000000"/><polygon points="121.37,767.17 134.81,767.17 142.81,761.37 129.37,761.37" fill="#000000"/><polygon points="121.37,774.35 134.81,774.35 134.81,767.17 121.37,767.17" fill="#000000"/><polygon points="151.6,774.35 159.6,768.55 159.6,761.37 151.6,767.17" fill="#000000"/><polygon points="138.17,767.17 151.6,767.17 159.6,761.37 146.17,761.37" fill="#000000"/><polygon points="138.17,774.35 151.6,774.35 151.6,767.17 138.17,767.17" fill="#000000"/><polygon points="168.4,774.35 176.4,768.55 176.4,762.8 168.4,768.6" fill="#000000"/><polygon points="154.96,768.6 168.4,768.6 176.4,762.8 162.96,762.8" fill="#000000"/><polygon points="154.96,774.35 168.4,774.35 168.4,768.6 154.96,768.6" fill="#000000"/><polygon points="185.19,774.35 193.19,768.55 193.19,751.31 185.19,757.11" fill="#000000"/><polygon points="171.76,757.11 185.19,757.11 193.19,751.31 179.76,751.31" fill="#000000"/><polygon points="171.76,774.35 185.19,774.35 185.19,757.11 171.76,757.11" fill="#000000"/><polygon points="218.78,774.35 226.78,768.55 226.78,765.68 218.78,771.48" fill="#000000"/><polygon points="205.35,771.48 218.78,771.48 226.78,765.68 213.35,765.68" fill="#000000"/><polygon points="205.35,774.35 218.78,774.35 218.78,771.48 205.35,771.48" fill="#000000"/><polygon points="235.58,774.35 243.58,768.55 243.58,762.8 235.58,768.6" fill="#000000"/><polygon points="222.14,768.6 235.58,768.6 243.58,762.8 230.14,762.8" fill="#000000"/><polygon points="222.14,774.35 235.58,774.35 235.58,768.6 222.14,768.6" fill="#000000"/><polygon points="252.37,774.35 260.37,768.55 260.37,759.93 252.37,765.73" fill="#000000"/><polygon points="238.94,765.73 252.37,765.73 260.37,759.93 246.94,759.93" fill="#000000"/><polygon points="238.94,774.35 252.37,774.35 252.37,765.73 238.94,765.73" fill="#000000"/><polygon points="269.17,774.35 277.17,768.55 277.17,757.06 269.17,762.86" fill="#000000"/><polygon points="255.73,762.86 269.17,762.86 277.17,757.06 263.73,757.06" fill="#000000"/><polygon points="255.73,774.35 269.17,774.35 269.17,762.86 255.73,762.86" fill="#000000"/><polygon points="285.96,774.35 293.96,768.55 293.96,762.8 285.96,768.6" fill="#000000"/><polygon points="272.53,768.6 285.96,768.6 293.96,762.8 280.53,762.8" fill="#000000"/><polygon points="272.53,774.35 285.96,774.35 285.96,768.6 272.53,768.6" fill="#000000"/><polygon points="302.76,774.35 310.76,768.55 310.76,762.8 302.76,768.6" fill="#000000"/><polygon points="289.32,768.6 302.76,768.6 310.76,762.8 297.32,762.8" fill="#000000"/><polygon points="289.32,774.35 302.76,774.35 302.76,768.6 289.32,768.6" fill="#000000"/><polygon points="319.55,774.35 327.55,768.55 327.55,757.06 319.55,762.86" fill="#000000"/><polygon points="306.12,762.86 319.55,762.86 327.55,757.06 314.12,757.06" fill="#000000"/><polygon points="306.12,774.35 319.55,774.35 319.55,762.86 306.12,762.86" fill="#000000"/><polygon points="336.35,774.35 344.35,768.55 344.35,759.93 336.35,765.73" fill="#000000"/><polygon points="322.91,765.73 336.35,765.73 344.35,759.93 330.91,759.93" fill="#000000"/><polygon points="322.91,774.35 336.35,774.35 336.35,765.73 322.91,765.73" fill="#000000"/><polygon points="353.14,774.35 361.14,768.55 361.14,765.68 353.14,771.48" fill="#000000"/><polygon points="339.71,771.48 353.14,771.48 361.14,765.68 347.71,765.68" fill="#000000"/><polygon points="339.71,774.35 353.14,774.35 353.14,771.48 339.71,771.48" fill="#000000"/><polygon points="369.94,774.35 377.94,768.55 377.94,762.8 369.94,768.6" fill="#000000"/><polygon points="356.5,768.6 369.94,768.6 377.94,762.8 364.5,762.8" fill="#000000"/><polygon points="356.5,774.35 369.94,774.35 369.94,768.6 356.5,768.6" fill="#000000"/><polygon points="386.73,774.35 394.73,768.55 394.73,762.8 386.73,768.6" fill="#000000"/><polygon points="373.3,768.6 386.73,768.6 394.73,762.8 381.3,762.8" fill="#000000"/><polygon points="373.3,774.35 386.73,774.35 386.73,768.6 373.3,768.6" fill="#000000"/><polygon points="403.53,774.35 411.53,768.55 411.53,765.68 403.53,771.48" fill="#000000"/><polygon points="390.09,771.48 403.53,771.48 411.53,765.68 398.09,765.68" fill="#000000"/><polygon points="390.09,774.35 403.53,774.35 403.53,771.48 390.09,771.48" fill="#000000"/><polygon points="420.32,774.35 428.32,768.55 428.32,757.06 420.32,762.86" fill="#000000"/><polygon points="406.88,762.86 420.32,762.86 428.32,757.06 414.88,757.06" fill="#000000"/><polygon points="406.88,774.35 420.32,774.35 420.32,762.86 406.88,762.86" fill="#000000"/></g>
<g font-size="11.2" font-weight="bold" fill="#424242" text-anchor="end"><text transform="translate(109 787.8) rotate(-90)">17p13.3</text><text transform="translate(125.79 787.8) rotate(-90)">17p13.2</text><text transform="translate(142.59 787.8) rotate(-90)">17p13.1</text><text transform="translate(159.38 787.8) rotate(-90)">17p13</text><text transform="translate(176.18 787.8) rotate(-90)">17p11.2</text><text transform="translate(209.77 787.8) rotate(-90)">17q11.2</text><text transform="translate(226.56 787.8) rotate(-90)">17q12</text><text transform="translate(243.36 787.8) rotate(-90)">17q21</text><text transform="translate(260.15 787.8) rotate(-90)">17q21.1</text><text transform="translate(276.94 787.8) rotate(-90)">17q21.2</text><text transform="translate(293.74 787.8) rotate(-90)">17q21.31</text><text transform="translate(310.53 787.8) rotate(-90)">17q21.32</text><text transform="translate(327.33 787.8) rotate(-90)">17q22</text><text transform="translate(344.12 787.8) rotate(-90)">17q23</text><text transform="translate(360.92 787.8) rotate(-90)">17q25</text><text transform="translate(377.71 787.8) rotate(-90)">17q25.1</text><text transform="translate(394.51 787.8) rotate(-90)">17q25.2</text><text transform="translate(411.3 787.8) rotate(-90)">17q25.3</text></g>
<text x="206.7" y="715.1" font-size="18.7" fill="#424242">Chromosome 17</text>
<polygon points="97.5,1005.6 543.5,1005.6 586,973.9 140,973.9" fill="#fff" stroke="#9c9c9c" stroke-width="1.4" stroke-linejoin="round"/>
<line x1="93.5" y1="1005.6" x2="543.5" y2="1005.6" stroke="#9c9c9c" stroke-width="1.6"/>
<path d="M97.5 1005.6V1009.8M115.34 1005.6V1009.8M133.18 1005.6V1009.8M151.02 1005.6V1009.8M168.86 1005.6V1009.8M186.7 1005.6V1009.8M204.54 1005.6V1009.8M222.38 1005.6V1009.8M240.22 1005.6V1009.8M258.06 1005.6V1009.8M275.9 1005.6V1009.8M293.74 1005.6V1009.8M311.58 1005.6V1009.8M329.42 1005.6V1009.8M347.26 1005.6V1009.8M365.1 1005.6V1009.8M382.94 1005.6V1009.8M400.78 1005.6V1009.8M418.62 1005.6V1009.8M436.46 1005.6V1009.8M454.3 1005.6V1009.8M472.14 1005.6V1009.8M489.98 1005.6V1009.8M507.82 1005.6V1009.8M525.66 1005.6V1009.8M543.5 1005.6V1009.8" stroke="#b0b0b0" stroke-width="1.1" fill="none"/>
<line x1="97.5" y1="850.7" x2="97.5" y2="1009.6" stroke="#9c9c9c" stroke-width="1.3"/>
<text x="85.9" y="1010.9" text-anchor="end" font-size="11.9" fill="#464646" stroke="#464646" stroke-width="0.35" textLength="6.15" lengthAdjust="spacingAndGlyphs">0</text>
<text x="85.9" y="979.92" text-anchor="end" font-size="11.9" fill="#464646" stroke="#464646" stroke-width="0.35" textLength="12.3" lengthAdjust="spacingAndGlyphs">10</text>
<text x="85.9" y="948.94" text-anchor="end" font-size="11.9" fill="#464646" stroke="#464646" stroke-width="0.35" textLength="12.3" lengthAdjust="spacingAndGlyphs">20</text>
<text x="85.9" y="917.96" text-anchor="end" font-size="11.9" fill="#464646" stroke="#464646" stroke-width="0.35" textLength="12.3" lengthAdjust="spacingAndGlyphs">30</text>
<text x="85.9" y="886.98" text-anchor="end" font-size="11.9" fill="#464646" stroke="#464646" stroke-width="0.35" textLength="12.3" lengthAdjust="spacingAndGlyphs">40</text>
<text x="85.9" y="856" text-anchor="end" font-size="11.9" fill="#464646" stroke="#464646" stroke-width="0.35" textLength="12.3" lengthAdjust="spacingAndGlyphs">50</text>
<path d="M93.5 974.62H101.5M93.5 943.64H101.5M93.5 912.66H101.5M93.5 881.68H101.5M93.5 850.7H101.5" stroke="#9c9c9c" stroke-width="1.3" fill="none"/>
<g stroke="#ffffff" stroke-width="1.4" stroke-linejoin="round"><polygon points="140.19,985 148.69,978.65 148.69,860.93 140.19,867.27" fill="#626262"/><polygon points="126.89,867.27 140.19,867.27 148.69,860.93 135.39,860.93" fill="#8c8c8c"/><polygon points="126.89,985 140.19,985 140.19,867.27 126.89,867.27" fill="#bcbcbc"/><polygon points="158.04,985 166.54,978.65 166.54,935.28 158.04,941.62" fill="#626262"/><polygon points="144.74,941.62 158.04,941.62 166.54,935.28 153.24,935.28" fill="#8c8c8c"/><polygon points="144.74,985 158.04,985 158.04,941.62 144.74,941.62" fill="#bcbcbc"/><polygon points="175.88,985 184.38,978.65 184.38,969.36 175.88,975.7" fill="#626262"/><polygon points="162.58,975.7 175.88,975.7 184.38,969.36 171.08,969.36" fill="#8c8c8c"/><polygon points="162.58,985 175.88,985 175.88,975.7 162.58,975.7" fill="#bcbcbc"/><polygon points="193.72,985 202.22,978.65 202.22,969.36 193.72,975.7" fill="#626262"/><polygon points="180.41,975.7 193.72,975.7 202.22,969.36 188.91,969.36" fill="#8c8c8c"/><polygon points="180.41,985 193.72,985 193.72,975.7 180.41,975.7" fill="#bcbcbc"/><polygon points="211.56,985 220.06,978.65 220.06,956.97 211.56,963.31" fill="#626262"/><polygon points="198.26,963.31 211.56,963.31 220.06,956.97 206.76,956.97" fill="#8c8c8c"/><polygon points="198.26,985 211.56,985 211.56,963.31 198.26,963.31" fill="#bcbcbc"/><polygon points="229.4,985 237.9,978.65 237.9,963.16 229.4,969.5" fill="#626262"/><polygon points="216.09,969.5 229.4,969.5 237.9,963.16 224.59,963.16" fill="#8c8c8c"/><polygon points="216.09,985 229.4,985 229.4,969.5 216.09,969.5" fill="#bcbcbc"/><polygon points="247.24,985 255.74,978.65 255.74,969.36 247.24,975.7" fill="#626262"/><polygon points="233.94,975.7 247.24,975.7 255.74,969.36 242.44,969.36" fill="#8c8c8c"/><polygon points="233.94,985 247.24,985 247.24,975.7 233.94,975.7" fill="#bcbcbc"/><polygon points="265.07,985 273.57,978.65 273.57,975.56 265.07,981.9" fill="#626262"/><polygon points="251.78,981.9 265.07,981.9 273.57,975.56 260.27,975.56" fill="#8c8c8c"/><polygon points="251.78,985 265.07,985 265.07,981.9 251.78,981.9" fill="#bcbcbc"/><polygon points="318.59,985 327.09,978.65 327.09,975.56 318.59,981.9" fill="#626262"/><polygon points="305.29,981.9 318.59,981.9 327.09,975.56 313.79,975.56" fill="#8c8c8c"/><polygon points="305.29,985 318.59,985 318.59,981.9 305.29,981.9" fill="#bcbcbc"/><polygon points="336.44,985 344.94,978.65 344.94,972.46 336.44,978.8" fill="#626262"/><polygon points="323.13,978.8 336.44,978.8 344.94,972.46 331.63,972.46" fill="#8c8c8c"/><polygon points="323.13,985 336.44,985 336.44,978.8 323.13,978.8" fill="#bcbcbc"/><polygon points="354.27,985 362.77,978.65 362.77,966.26 354.27,972.6" fill="#626262"/><polygon points="340.97,972.6 354.27,972.6 362.77,966.26 349.47,966.26" fill="#8c8c8c"/><polygon points="340.97,985 354.27,985 354.27,972.6 340.97,972.6" fill="#bcbcbc"/><polygon points="372.11,985 380.61,978.65 380.61,972.46 372.11,978.8" fill="#626262"/><polygon points="358.81,978.8 372.11,978.8 380.61,972.46 367.31,972.46" fill="#8c8c8c"/><polygon points="358.81,985 372.11,985 372.11,978.8 358.81,978.8" fill="#bcbcbc"/><polygon points="425.63,985 434.13,978.65 434.13,933.11 425.63,939.45" fill="#626262"/><polygon points="412.33,939.45 425.63,939.45 434.13,933.11 420.83,933.11" fill="#8c8c8c"/><polygon points="412.33,985 425.63,985 425.63,939.45 412.33,939.45" fill="#bcbcbc"/><polygon points="443.47,985 451.97,978.65 451.97,920.41 443.47,926.75" fill="#626262"/><polygon points="430.17,926.75 443.47,926.75 451.97,920.41 438.67,920.41" fill="#8c8c8c"/><polygon points="430.17,985 443.47,985 443.47,926.75 430.17,926.75" fill="#bcbcbc"/><polygon points="461.31,985 469.81,978.65 469.81,969.36 461.31,975.7" fill="#626262"/><polygon points="448.01,975.7 461.31,975.7 469.81,969.36 456.51,969.36" fill="#8c8c8c"/><polygon points="448.01,985 461.31,985 461.31,975.7 448.01,975.7" fill="#bcbcbc"/><polygon points="497,985 505.5,978.65 505.5,957.59 497,963.93" fill="#626262"/><polygon points="483.69,963.93 497,963.93 505.5,957.59 492.19,957.59" fill="#8c8c8c"/><polygon points="483.69,985 497,985 497,963.93 483.69,963.93" fill="#bcbcbc"/><polygon points="514.83,985 523.33,978.65 523.33,950.15 514.83,956.49" fill="#626262"/><polygon points="501.53,956.49 514.83,956.49 523.33,950.15 510.03,950.15" fill="#8c8c8c"/><polygon points="501.53,985 514.83,985 514.83,956.49 501.53,956.49" fill="#bcbcbc"/><polygon points="550.51,985 559.01,978.65 559.01,944.58 550.51,950.92" fill="#626262"/><polygon points="537.21,950.92 550.51,950.92 559.01,944.58 545.71,944.58" fill="#8c8c8c"/><polygon points="537.21,985 550.51,985 550.51,950.92 537.21,950.92" fill="#bcbcbc"/><polygon points="568.35,985 576.85,978.65 576.85,966.26 568.35,972.6" fill="#626262"/><polygon points="555.05,972.6 568.35,972.6 576.85,966.26 563.55,966.26" fill="#8c8c8c"/><polygon points="555.05,985 568.35,985 568.35,972.6 555.05,972.6" fill="#bcbcbc"/></g>
<g stroke="#ffffff" stroke-width="1.4" stroke-linejoin="round"><polygon points="118.94,1000.85 127.44,994.5 127.44,839.61 118.94,845.95" fill="#000000"/><polygon points="105.64,845.95 118.94,845.95 127.44,839.61 114.14,839.61" fill="#000000"/><polygon points="105.64,1000.85 118.94,1000.85 118.94,845.95 105.64,845.95" fill="#000000"/><polygon points="136.78,1000.85 145.28,994.5 145.28,952.06 136.78,958.4" fill="#000000"/><polygon points="123.48,958.4 136.78,958.4 145.28,952.06 131.99,952.06" fill="#000000"/><polygon points="123.48,1000.85 136.78,1000.85 136.78,958.4 123.48,958.4" fill="#000000"/><polygon points="154.63,1000.85 163.13,994.5 163.13,982.11 154.63,988.45" fill="#000000"/><polygon points="141.33,988.45 154.63,988.45 163.13,982.11 149.83,982.11" fill="#000000"/><polygon points="141.33,1000.85 154.63,1000.85 154.63,988.45 141.33,988.45" fill="#000000"/><polygon points="172.47,1000.85 180.97,994.5 180.97,975.92 172.47,982.26" fill="#000000"/><polygon points="159.16,982.26 172.47,982.26 180.97,975.92 167.66,975.92" fill="#000000"/><polygon points="159.16,1000.85 172.47,1000.85 172.47,982.26 159.16,982.26" fill="#000000"/><polygon points="190.31,1000.85 198.81,994.5 198.81,972.82 190.31,979.16" fill="#000000"/><polygon points="177.01,979.16 190.31,979.16 198.81,972.82 185.51,972.82" fill="#000000"/><polygon points="177.01,1000.85 190.31,1000.85 190.31,979.16 177.01,979.16" fill="#000000"/><polygon points="208.15,1000.85 216.65,994.5 216.65,985.21 208.15,991.55" fill="#000000"/><polygon points="194.84,991.55 208.15,991.55 216.65,985.21 203.34,985.21" fill="#000000"/><polygon points="194.84,1000.85 208.15,1000.85 208.15,991.55 194.84,991.55" fill="#000000"/><polygon points="225.99,1000.85 234.49,994.5 234.49,979.01 225.99,985.36" fill="#000000"/><polygon points="212.69,985.36 225.99,985.36 234.49,979.01 221.19,979.01" fill="#000000"/><polygon points="212.69,1000.85 225.99,1000.85 225.99,985.36 212.69,985.36" fill="#000000"/><polygon points="243.83,1000.85 252.33,994.5 252.33,975.92 243.83,982.26" fill="#000000"/><polygon points="230.53,982.26 243.83,982.26 252.33,975.92 239.03,975.92" fill="#000000"/><polygon points="230.53,1000.85 243.83,1000.85 243.83,982.26 230.53,982.26" fill="#000000"/><polygon points="279.5,1000.85 288,994.5 288,991.41 279.5,997.75" fill="#000000"/><polygon points="266.2,997.75 279.5,997.75 288,991.41 274.7,991.41" fill="#000000"/><polygon points="266.2,1000.85 279.5,1000.85 279.5,997.75 266.2,997.75" fill="#000000"/><polygon points="297.34,1000.85 305.84,994.5 305.84,991.41 297.34,997.75" fill="#000000"/><polygon points="284.04,997.75 297.34,997.75 305.84,991.41 292.54,991.41" fill="#000000"/><polygon points="284.04,1000.85 297.34,1000.85 297.34,997.75 284.04,997.75" fill="#000000"/><polygon points="315.19,1000.85 323.69,994.5 323.69,991.41 315.19,997.75" fill="#000000"/><polygon points="301.88,997.75 315.19,997.75 323.69,991.41 310.38,991.41" fill="#000000"/><polygon points="301.88,1000.85 315.19,1000.85 315.19,997.75 301.88,997.75" fill="#000000"/><polygon points="333.02,1000.85 341.52,994.5 341.52,979.01 333.02,985.36" fill="#000000"/><polygon points="319.72,985.36 333.02,985.36 341.52,979.01 328.22,979.01" fill="#000000"/><polygon points="319.72,1000.85 333.02,1000.85 333.02,985.36 319.72,985.36" fill="#000000"/><polygon points="350.86,1000.85 359.36,994.5 359.36,991.41 350.86,997.75" fill="#000000"/><polygon points="337.56,997.75 350.86,997.75 359.36,991.41 346.06,991.41" fill="#000000"/><polygon points="337.56,1000.85 350.86,1000.85 350.86,997.75 337.56,997.75" fill="#000000"/><polygon points="368.7,1000.85 377.2,994.5 377.2,982.11 368.7,988.45" fill="#000000"/><polygon points="355.4,988.45 368.7,988.45 377.2,982.11 363.9,982.11" fill="#000000"/><polygon points="355.4,1000.85 368.7,1000.85 368.7,988.45 355.4,988.45" fill="#000000"/><polygon points="386.55,1000.85 395.05,994.5 395.05,991.41 386.55,997.75" fill="#000000"/><polygon points="373.25,997.75 386.55,997.75 395.05,991.41 381.75,991.41" fill="#000000"/><polygon points="373.25,1000.85 386.55,1000.85 386.55,997.75 373.25,997.75" fill="#000000"/><polygon points="404.38,1000.85 412.88,994.5 412.88,969.72 404.38,976.06" fill="#000000"/><polygon points="391.08,976.06 404.38,976.06 412.88,969.72 399.58,969.72" fill="#000000"/><polygon points="391.08,1000.85 404.38,1000.85 404.38,976.06 391.08,976.06" fill="#000000"/><polygon points="422.22,1000.85 430.72,994.5 430.72,951.13 422.22,957.47" fill="#000000"/><polygon points="408.92,957.47 422.22,957.47 430.72,951.13 417.42,951.13" fill="#000000"/><polygon points="408.92,1000.85 422.22,1000.85 422.22,957.47 408.92,957.47" fill="#000000"/><polygon points="440.06,1000.85 448.56,994.5 448.56,985.21 440.06,991.55" fill="#000000"/><polygon points="426.76,991.55 440.06,991.55 448.56,985.21 435.26,985.21" fill="#000000"/><polygon points="426.76,1000.85 440.06,1000.85 440.06,991.55 426.76,991.55" fill="#000000"/><polygon points="457.9,1000.85 466.4,994.5 466.4,982.11 457.9,988.45" fill="#000000"/><polygon points="444.6,988.45 457.9,988.45 466.4,982.11 453.1,982.11" fill="#000000"/><polygon points="444.6,1000.85 457.9,1000.85 457.9,988.45 444.6,988.45" fill="#000000"/><polygon points="475.75,1000.85 484.25,994.5 484.25,969.72 475.75,976.06" fill="#000000"/><polygon points="462.44,976.06 475.75,976.06 484.25,969.72 470.94,969.72" fill="#000000"/><polygon points="462.44,1000.85 475.75,1000.85 475.75,976.06 462.44,976.06" fill="#000000"/><polygon points="493.58,1000.85 502.08,994.5 502.08,966.62 493.58,972.96" fill="#000000"/><polygon points="480.28,972.96 493.58,972.96 502.08,966.62 488.78,966.62" fill="#000000"/><polygon points="480.28,1000.85 493.58,1000.85 493.58,972.96 480.28,972.96" fill="#000000"/><polygon points="511.43,1000.85 519.92,994.5 519.92,993.89 511.43,1000.23" fill="#000000"/><polygon points="498.12,1000.23 511.43,1000.23 519.92,993.89 506.62,993.89" fill="#000000"/><polygon points="498.12,1000.85 511.43,1000.85 511.43,1000.23 498.12,1000.23" fill="#000000"/><polygon points="529.26,1000.85 537.76,994.5 537.76,976.54 529.26,982.88" fill="#000000"/><polygon points="515.96,982.88 529.26,982.88 537.76,976.54 524.46,976.54" fill="#000000"/><polygon points="515.96,1000.85 529.26,1000.85 529.26,982.88 515.96,982.88" fill="#000000"/><polygon points="547.1,1000.85 555.6,994.5 555.6,985.21 547.1,991.55" fill="#000000"/><polygon points="533.8,991.55 547.1,991.55 555.6,985.21 542.3,985.21" fill="#000000"/><polygon points="533.8,1000.85 547.1,1000.85 547.1,991.55 533.8,991.55" fill="#000000"/></g>
<g font-size="11.2" font-weight="bold" fill="#424242" text-anchor="end"><text transform="translate(110.12 1015.4) rotate(-90)">19p13.3</text><text transform="translate(127.96 1015.4) rotate(-90)">19p13.2</text><text transform="translate(145.8 1015.4) rotate(-90)">19p13.13</text><text transform="translate(163.64 1015.4) rotate(-90)">19p13.12</text><text transform="translate(181.48 1015.4) rotate(-90)">19p13.11</text><text transform="translate(199.32 1015.4) rotate(-90)">19p13.1</text><text transform="translate(217.16 1015.4) rotate(-90)">19p13</text><text transform="translate(235 1015.4) rotate(-90)">19p12</text><text transform="translate(270.68 1015.4) rotate(-90)">19q</text><text transform="translate(288.52 1015.4) rotate(-90)">19q12</text><text transform="translate(306.36 1015.4) rotate(-90)">19q13</text><text transform="translate(324.2 1015.4) rotate(-90)">19q13.1</text><text transform="translate(342.04 1015.4) rotate(-90)">19q13.11</text><text transform="translate(359.88 1015.4) rotate(-90)">19q13.12</text><text transform="translate(377.72 1015.4) rotate(-90)">19q13.13</text><text transform="translate(395.56 1015.4) rotate(-90)">19q13.2</text><text transform="translate(413.4 1015.4) rotate(-90)">19q13.3</text><text transform="translate(431.24 1015.4) rotate(-90)">19q13.31</text><text transform="translate(449.08 1015.4) rotate(-90)">19q13.32</text><text transform="translate(466.92 1015.4) rotate(-90)">19q13.33</text><text transform="translate(484.76 1015.4) rotate(-90)">19q13.4</text><text transform="translate(502.6 1015.4) rotate(-90)">19q13.41</text><text transform="translate(520.44 1015.4) rotate(-90)">19q13.42</text><text transform="translate(538.28 1015.4) rotate(-90)">19q13.43</text></g>
<text x="206.7" y="894.7" font-size="18.7" fill="#424242">Chromosome 19</text>
<text transform="translate(47.4 600.7) rotate(-90)" font-size="27.4" fill="#3a3a3a" stroke="#3a3a3a" stroke-width="0.3" textLength="204.5" lengthAdjust="spacingAndGlyphs">Number of genes</text>
<rect x="607.8" y="656.8" width="32.7" height="27.7" fill="#000"/>
<rect x="607.8" y="690" width="32.7" height="28.2" fill="#a9a9a9"/>
<text x="651.5" y="678.6" font-size="22.5" fill="#111" stroke="#111" stroke-width="0.3">C5</text>
<text x="651.5" y="712.3" font-size="22.5" fill="#111" stroke="#111" stroke-width="0.3">C2</text>
</g>
<g fill="#0a0a0a" shape-rendering="crispEdges"><rect x="0" y="1" width="1" height="1112"/><rect x="0" y="1" width="807" height="1"/><rect x="806" y="1" width="1" height="1112"/><rect x="0" y="1112" width="807" height="1"/></g>
</svg>
</body></html>
